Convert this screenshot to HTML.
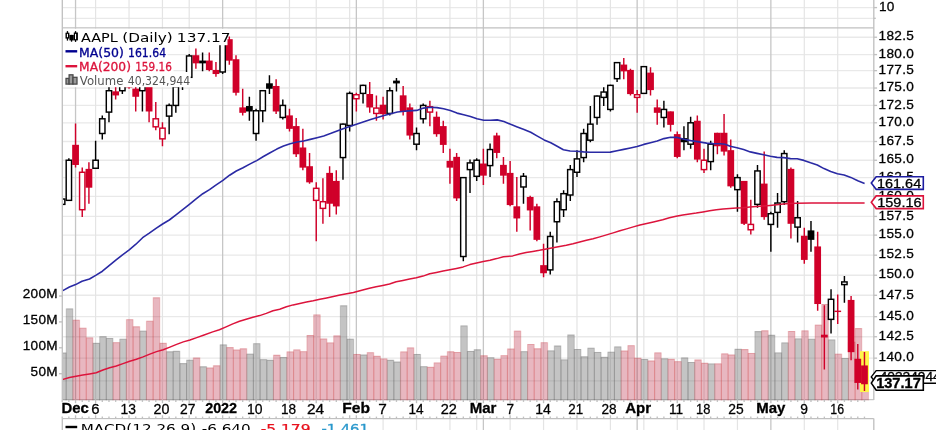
<!DOCTYPE html>
<html><head><meta charset="utf-8"><title>AAPL (Daily)</title>
<style>html,body{margin:0;padding:0;background:#fff}body{width:936px;height:430px;overflow:hidden}svg text{white-space:pre}</style>
</head><body>
<svg width="936" height="430" viewBox="0 0 936 430" style="display:block">
<rect width="936" height="430" fill="#fff"/>
<defs><clipPath id="cp"><rect x="62.3" y="27.95" width="811.5" height="372.25"/></clipPath></defs>
<g>
<line x1="62.30" y1="7.60" x2="873.80" y2="7.60" stroke="#e9e9e9" stroke-width="1.34" />
<line x1="62.30" y1="18.30" x2="873.80" y2="18.30" stroke="#e9e9e9" stroke-width="1.34" />
<line x1="62.30" y1="37.22" x2="873.80" y2="37.22" stroke="#e9e9e9" stroke-width="1.34" />
<line x1="62.30" y1="54.60" x2="873.80" y2="54.60" stroke="#e9e9e9" stroke-width="1.34" />
<line x1="62.30" y1="70.65" x2="873.80" y2="70.65" stroke="#e9e9e9" stroke-width="1.34" />
<line x1="62.30" y1="88.03" x2="873.80" y2="88.03" stroke="#e9e9e9" stroke-width="1.34" />
<line x1="62.30" y1="105.42" x2="873.80" y2="105.42" stroke="#e9e9e9" stroke-width="1.34" />
<line x1="62.30" y1="122.80" x2="873.80" y2="122.80" stroke="#e9e9e9" stroke-width="1.34" />
<line x1="62.30" y1="141.52" x2="873.80" y2="141.52" stroke="#e9e9e9" stroke-width="1.34" />
<line x1="62.30" y1="160.24" x2="873.80" y2="160.24" stroke="#e9e9e9" stroke-width="1.34" />
<line x1="62.30" y1="177.62" x2="873.80" y2="177.62" stroke="#e9e9e9" stroke-width="1.34" />
<line x1="62.30" y1="196.34" x2="873.80" y2="196.34" stroke="#e9e9e9" stroke-width="1.34" />
<line x1="62.30" y1="216.40" x2="873.80" y2="216.40" stroke="#e9e9e9" stroke-width="1.34" />
<line x1="62.30" y1="235.12" x2="873.80" y2="235.12" stroke="#e9e9e9" stroke-width="1.34" />
<line x1="62.30" y1="255.18" x2="873.80" y2="255.18" stroke="#e9e9e9" stroke-width="1.34" />
<line x1="62.30" y1="275.23" x2="873.80" y2="275.23" stroke="#e9e9e9" stroke-width="1.34" />
<line x1="62.30" y1="295.29" x2="873.80" y2="295.29" stroke="#e9e9e9" stroke-width="1.34" />
<line x1="62.30" y1="316.68" x2="873.80" y2="316.68" stroke="#e9e9e9" stroke-width="1.34" />
<line x1="62.30" y1="336.74" x2="873.80" y2="336.74" stroke="#e9e9e9" stroke-width="1.34" />
<line x1="62.30" y1="358.14" x2="873.80" y2="358.14" stroke="#e9e9e9" stroke-width="1.34" />
<line x1="62.30" y1="380.87" x2="873.80" y2="380.87" stroke="#e9e9e9" stroke-width="1.34" />
<line x1="62.30" y1="399.60" x2="873.80" y2="399.60" stroke="#c8c8c8" stroke-width="1.2" />
<line x1="95.61" y1="0.00" x2="95.61" y2="399.90" stroke="#e4e4e4" stroke-width="1.2" />
<line x1="95.61" y1="418.60" x2="95.61" y2="430.00" stroke="#e4e4e4" stroke-width="1.2" />
<line x1="129.04" y1="0.00" x2="129.04" y2="399.90" stroke="#e4e4e4" stroke-width="1.2" />
<line x1="129.04" y1="418.60" x2="129.04" y2="430.00" stroke="#e4e4e4" stroke-width="1.2" />
<line x1="162.46" y1="0.00" x2="162.46" y2="399.90" stroke="#e4e4e4" stroke-width="1.2" />
<line x1="162.46" y1="418.60" x2="162.46" y2="430.00" stroke="#e4e4e4" stroke-width="1.2" />
<line x1="189.21" y1="0.00" x2="189.21" y2="399.90" stroke="#e4e4e4" stroke-width="1.2" />
<line x1="189.21" y1="418.60" x2="189.21" y2="430.00" stroke="#e4e4e4" stroke-width="1.2" />
<line x1="256.06" y1="0.00" x2="256.06" y2="399.90" stroke="#e4e4e4" stroke-width="1.2" />
<line x1="256.06" y1="418.60" x2="256.06" y2="430.00" stroke="#e4e4e4" stroke-width="1.2" />
<line x1="289.49" y1="0.00" x2="289.49" y2="399.90" stroke="#e4e4e4" stroke-width="1.2" />
<line x1="289.49" y1="418.60" x2="289.49" y2="430.00" stroke="#e4e4e4" stroke-width="1.2" />
<line x1="316.24" y1="0.00" x2="316.24" y2="399.90" stroke="#e4e4e4" stroke-width="1.2" />
<line x1="316.24" y1="418.60" x2="316.24" y2="430.00" stroke="#e4e4e4" stroke-width="1.2" />
<line x1="349.66" y1="0.00" x2="349.66" y2="399.90" stroke="#e4e4e4" stroke-width="1.2" />
<line x1="349.66" y1="418.60" x2="349.66" y2="430.00" stroke="#e4e4e4" stroke-width="1.2" />
<line x1="383.09" y1="0.00" x2="383.09" y2="399.90" stroke="#e4e4e4" stroke-width="1.2" />
<line x1="383.09" y1="418.60" x2="383.09" y2="430.00" stroke="#e4e4e4" stroke-width="1.2" />
<line x1="416.52" y1="0.00" x2="416.52" y2="399.90" stroke="#e4e4e4" stroke-width="1.2" />
<line x1="416.52" y1="418.60" x2="416.52" y2="430.00" stroke="#e4e4e4" stroke-width="1.2" />
<line x1="449.95" y1="0.00" x2="449.95" y2="399.90" stroke="#e4e4e4" stroke-width="1.2" />
<line x1="449.95" y1="418.60" x2="449.95" y2="430.00" stroke="#e4e4e4" stroke-width="1.2" />
<line x1="476.69" y1="0.00" x2="476.69" y2="399.90" stroke="#e4e4e4" stroke-width="1.2" />
<line x1="476.69" y1="418.60" x2="476.69" y2="430.00" stroke="#e4e4e4" stroke-width="1.2" />
<line x1="510.12" y1="0.00" x2="510.12" y2="399.90" stroke="#e4e4e4" stroke-width="1.2" />
<line x1="510.12" y1="418.60" x2="510.12" y2="430.00" stroke="#e4e4e4" stroke-width="1.2" />
<line x1="543.55" y1="0.00" x2="543.55" y2="399.90" stroke="#e4e4e4" stroke-width="1.2" />
<line x1="543.55" y1="418.60" x2="543.55" y2="430.00" stroke="#e4e4e4" stroke-width="1.2" />
<line x1="576.98" y1="0.00" x2="576.98" y2="399.90" stroke="#e4e4e4" stroke-width="1.2" />
<line x1="576.98" y1="418.60" x2="576.98" y2="430.00" stroke="#e4e4e4" stroke-width="1.2" />
<line x1="610.41" y1="0.00" x2="610.41" y2="399.90" stroke="#e4e4e4" stroke-width="1.2" />
<line x1="610.41" y1="418.60" x2="610.41" y2="430.00" stroke="#e4e4e4" stroke-width="1.2" />
<line x1="643.84" y1="0.00" x2="643.84" y2="399.90" stroke="#e4e4e4" stroke-width="1.2" />
<line x1="643.84" y1="418.60" x2="643.84" y2="430.00" stroke="#e4e4e4" stroke-width="1.2" />
<line x1="677.26" y1="0.00" x2="677.26" y2="399.90" stroke="#e4e4e4" stroke-width="1.2" />
<line x1="677.26" y1="418.60" x2="677.26" y2="430.00" stroke="#e4e4e4" stroke-width="1.2" />
<line x1="704.01" y1="0.00" x2="704.01" y2="399.90" stroke="#e4e4e4" stroke-width="1.2" />
<line x1="704.01" y1="418.60" x2="704.01" y2="430.00" stroke="#e4e4e4" stroke-width="1.2" />
<line x1="737.44" y1="0.00" x2="737.44" y2="399.90" stroke="#e4e4e4" stroke-width="1.2" />
<line x1="737.44" y1="418.60" x2="737.44" y2="430.00" stroke="#e4e4e4" stroke-width="1.2" />
<line x1="804.29" y1="0.00" x2="804.29" y2="399.90" stroke="#e4e4e4" stroke-width="1.2" />
<line x1="804.29" y1="418.60" x2="804.29" y2="430.00" stroke="#e4e4e4" stroke-width="1.2" />
<line x1="837.72" y1="0.00" x2="837.72" y2="399.90" stroke="#e4e4e4" stroke-width="1.2" />
<line x1="837.72" y1="418.60" x2="837.72" y2="430.00" stroke="#e4e4e4" stroke-width="1.2" />
<line x1="75.55" y1="0.00" x2="75.55" y2="399.90" stroke="#c6c6c6" stroke-width="1.3" />
<line x1="75.55" y1="418.60" x2="75.55" y2="430.00" stroke="#c6c6c6" stroke-width="1.3" />
<line x1="222.64" y1="0.00" x2="222.64" y2="399.90" stroke="#c6c6c6" stroke-width="1.3" />
<line x1="222.64" y1="418.60" x2="222.64" y2="430.00" stroke="#c6c6c6" stroke-width="1.3" />
<line x1="356.35" y1="0.00" x2="356.35" y2="399.90" stroke="#c6c6c6" stroke-width="1.3" />
<line x1="356.35" y1="418.60" x2="356.35" y2="430.00" stroke="#c6c6c6" stroke-width="1.3" />
<line x1="483.38" y1="0.00" x2="483.38" y2="399.90" stroke="#c6c6c6" stroke-width="1.3" />
<line x1="483.38" y1="418.60" x2="483.38" y2="430.00" stroke="#c6c6c6" stroke-width="1.3" />
<line x1="637.15" y1="0.00" x2="637.15" y2="399.90" stroke="#c6c6c6" stroke-width="1.3" />
<line x1="637.15" y1="418.60" x2="637.15" y2="430.00" stroke="#c6c6c6" stroke-width="1.3" />
<line x1="770.86" y1="0.00" x2="770.86" y2="399.90" stroke="#c6c6c6" stroke-width="1.3" />
<line x1="770.86" y1="418.60" x2="770.86" y2="430.00" stroke="#c6c6c6" stroke-width="1.3" />
</g>
<g clip-path="url(#cp)">
<rect x="59.53" y="352.65" width="6.69" height="49.25" fill="rgba(107,107,107,0.40)"/>
<rect x="66.21" y="308.47" width="6.69" height="93.43" fill="rgba(107,107,107,0.40)"/>
<rect x="72.90" y="319.81" width="6.69" height="82.09" fill="rgba(178,18,45,0.30)"/>
<rect x="79.59" y="327.79" width="6.69" height="74.11" fill="rgba(178,18,45,0.30)"/>
<rect x="86.27" y="337.48" width="6.69" height="64.42" fill="rgba(178,18,45,0.30)"/>
<rect x="92.96" y="342.92" width="6.69" height="58.98" fill="rgba(107,107,107,0.40)"/>
<rect x="99.64" y="336.23" width="6.69" height="65.67" fill="rgba(107,107,107,0.40)"/>
<rect x="106.33" y="338.05" width="6.69" height="63.85" fill="rgba(107,107,107,0.40)"/>
<rect x="113.01" y="342.19" width="6.69" height="59.71" fill="rgba(178,18,45,0.30)"/>
<rect x="119.70" y="338.82" width="6.69" height="63.08" fill="rgba(107,107,107,0.40)"/>
<rect x="126.39" y="319.24" width="6.69" height="82.66" fill="rgba(178,18,45,0.30)"/>
<rect x="133.07" y="326.39" width="6.69" height="75.51" fill="rgba(178,18,45,0.30)"/>
<rect x="139.76" y="330.69" width="6.69" height="71.21" fill="rgba(107,107,107,0.40)"/>
<rect x="146.44" y="320.80" width="6.69" height="81.10" fill="rgba(178,18,45,0.30)"/>
<rect x="153.13" y="297.38" width="6.69" height="104.52" fill="rgba(178,18,45,0.30)"/>
<rect x="159.81" y="342.92" width="6.69" height="58.98" fill="rgba(178,18,45,0.30)"/>
<rect x="166.50" y="351.36" width="6.69" height="50.54" fill="rgba(107,107,107,0.40)"/>
<rect x="173.19" y="350.89" width="6.69" height="51.01" fill="rgba(107,107,107,0.40)"/>
<rect x="179.87" y="363.17" width="6.69" height="38.73" fill="rgba(107,107,107,0.40)"/>
<rect x="186.56" y="359.80" width="6.69" height="42.10" fill="rgba(107,107,107,0.40)"/>
<rect x="193.24" y="357.63" width="6.69" height="44.27" fill="rgba(178,18,45,0.30)"/>
<rect x="199.93" y="366.33" width="6.69" height="35.57" fill="rgba(107,107,107,0.40)"/>
<rect x="206.61" y="367.62" width="6.69" height="34.28" fill="rgba(178,18,45,0.30)"/>
<rect x="213.30" y="365.40" width="6.69" height="36.50" fill="rgba(178,18,45,0.30)"/>
<rect x="219.99" y="344.47" width="6.69" height="57.43" fill="rgba(107,107,107,0.40)"/>
<rect x="226.67" y="347.16" width="6.69" height="54.74" fill="rgba(178,18,45,0.30)"/>
<rect x="233.36" y="349.65" width="6.69" height="52.25" fill="rgba(178,18,45,0.30)"/>
<rect x="240.04" y="348.41" width="6.69" height="53.49" fill="rgba(178,18,45,0.30)"/>
<rect x="246.73" y="353.69" width="6.69" height="48.21" fill="rgba(107,107,107,0.40)"/>
<rect x="253.41" y="343.28" width="6.69" height="58.62" fill="rgba(107,107,107,0.40)"/>
<rect x="260.10" y="359.18" width="6.69" height="42.72" fill="rgba(107,107,107,0.40)"/>
<rect x="266.79" y="359.85" width="6.69" height="42.05" fill="rgba(107,107,107,0.40)"/>
<rect x="273.47" y="354.83" width="6.69" height="47.07" fill="rgba(178,18,45,0.30)"/>
<rect x="280.16" y="356.95" width="6.69" height="44.95" fill="rgba(107,107,107,0.40)"/>
<rect x="286.84" y="351.51" width="6.69" height="50.39" fill="rgba(178,18,45,0.30)"/>
<rect x="293.53" y="349.49" width="6.69" height="52.41" fill="rgba(178,18,45,0.30)"/>
<rect x="300.21" y="351.25" width="6.69" height="50.65" fill="rgba(178,18,45,0.30)"/>
<rect x="306.90" y="334.99" width="6.69" height="66.91" fill="rgba(178,18,45,0.30)"/>
<rect x="313.59" y="314.53" width="6.69" height="87.37" fill="rgba(178,18,45,0.30)"/>
<rect x="320.27" y="338.62" width="6.69" height="63.28" fill="rgba(178,18,45,0.30)"/>
<rect x="326.96" y="342.50" width="6.69" height="59.40" fill="rgba(178,18,45,0.30)"/>
<rect x="333.64" y="335.46" width="6.69" height="66.44" fill="rgba(178,18,45,0.30)"/>
<rect x="340.33" y="305.41" width="6.69" height="96.49" fill="rgba(107,107,107,0.40)"/>
<rect x="347.01" y="338.77" width="6.69" height="63.13" fill="rgba(107,107,107,0.40)"/>
<rect x="353.70" y="353.95" width="6.69" height="47.95" fill="rgba(178,18,45,0.30)"/>
<rect x="360.39" y="354.62" width="6.69" height="47.28" fill="rgba(107,107,107,0.40)"/>
<rect x="367.07" y="352.29" width="6.69" height="49.61" fill="rgba(178,18,45,0.30)"/>
<rect x="373.76" y="355.87" width="6.69" height="46.03" fill="rgba(178,18,45,0.30)"/>
<rect x="380.44" y="358.56" width="6.69" height="43.34" fill="rgba(178,18,45,0.30)"/>
<rect x="387.13" y="359.85" width="6.69" height="42.05" fill="rgba(107,107,107,0.40)"/>
<rect x="393.81" y="361.67" width="6.69" height="40.23" fill="rgba(107,107,107,0.40)"/>
<rect x="400.50" y="351.51" width="6.69" height="50.39" fill="rgba(178,18,45,0.30)"/>
<rect x="407.19" y="347.47" width="6.69" height="54.43" fill="rgba(178,18,45,0.30)"/>
<rect x="413.87" y="353.95" width="6.69" height="47.95" fill="rgba(107,107,107,0.40)"/>
<rect x="420.56" y="366.23" width="6.69" height="35.67" fill="rgba(107,107,107,0.40)"/>
<rect x="427.24" y="366.90" width="6.69" height="35.00" fill="rgba(178,18,45,0.30)"/>
<rect x="433.93" y="362.55" width="6.69" height="39.35" fill="rgba(178,18,45,0.30)"/>
<rect x="440.61" y="355.71" width="6.69" height="46.19" fill="rgba(178,18,45,0.30)"/>
<rect x="447.30" y="351.36" width="6.69" height="50.54" fill="rgba(178,18,45,0.30)"/>
<rect x="453.99" y="351.98" width="6.69" height="49.92" fill="rgba(178,18,45,0.30)"/>
<rect x="460.67" y="325.51" width="6.69" height="76.39" fill="rgba(107,107,107,0.40)"/>
<rect x="467.36" y="350.94" width="6.69" height="50.96" fill="rgba(107,107,107,0.40)"/>
<rect x="474.04" y="349.34" width="6.69" height="52.56" fill="rgba(107,107,107,0.40)"/>
<rect x="480.73" y="355.35" width="6.69" height="46.55" fill="rgba(178,18,45,0.30)"/>
<rect x="487.41" y="357.32" width="6.69" height="44.58" fill="rgba(107,107,107,0.40)"/>
<rect x="494.10" y="358.87" width="6.69" height="43.03" fill="rgba(178,18,45,0.30)"/>
<rect x="500.79" y="355.24" width="6.69" height="46.66" fill="rgba(178,18,45,0.30)"/>
<rect x="507.47" y="348.66" width="6.69" height="53.24" fill="rgba(178,18,45,0.30)"/>
<rect x="514.16" y="330.69" width="6.69" height="71.21" fill="rgba(178,18,45,0.30)"/>
<rect x="520.84" y="351.20" width="6.69" height="50.70" fill="rgba(107,107,107,0.40)"/>
<rect x="527.53" y="344.05" width="6.69" height="57.85" fill="rgba(178,18,45,0.30)"/>
<rect x="534.21" y="348.35" width="6.69" height="53.55" fill="rgba(178,18,45,0.30)"/>
<rect x="540.90" y="342.29" width="6.69" height="59.61" fill="rgba(178,18,45,0.30)"/>
<rect x="547.59" y="350.43" width="6.69" height="51.47" fill="rgba(107,107,107,0.40)"/>
<rect x="554.27" y="345.61" width="6.69" height="56.29" fill="rgba(107,107,107,0.40)"/>
<rect x="560.96" y="359.44" width="6.69" height="42.46" fill="rgba(107,107,107,0.40)"/>
<rect x="567.64" y="334.63" width="6.69" height="67.27" fill="rgba(107,107,107,0.40)"/>
<rect x="574.33" y="348.98" width="6.69" height="52.92" fill="rgba(107,107,107,0.40)"/>
<rect x="581.01" y="356.38" width="6.69" height="45.52" fill="rgba(107,107,107,0.40)"/>
<rect x="587.70" y="347.78" width="6.69" height="54.12" fill="rgba(107,107,107,0.40)"/>
<rect x="594.39" y="351.93" width="6.69" height="49.97" fill="rgba(107,107,107,0.40)"/>
<rect x="601.07" y="356.90" width="6.69" height="45.00" fill="rgba(107,107,107,0.40)"/>
<rect x="607.76" y="351.77" width="6.69" height="50.13" fill="rgba(107,107,107,0.40)"/>
<rect x="614.44" y="346.49" width="6.69" height="55.41" fill="rgba(107,107,107,0.40)"/>
<rect x="621.13" y="350.63" width="6.69" height="51.27" fill="rgba(178,18,45,0.30)"/>
<rect x="627.81" y="345.25" width="6.69" height="56.65" fill="rgba(178,18,45,0.30)"/>
<rect x="634.50" y="357.78" width="6.69" height="44.12" fill="rgba(178,18,45,0.30)"/>
<rect x="641.19" y="358.97" width="6.69" height="42.93" fill="rgba(107,107,107,0.40)"/>
<rect x="647.87" y="360.58" width="6.69" height="41.32" fill="rgba(178,18,45,0.30)"/>
<rect x="654.56" y="352.45" width="6.69" height="49.45" fill="rgba(178,18,45,0.30)"/>
<rect x="661.24" y="358.40" width="6.69" height="43.50" fill="rgba(107,107,107,0.40)"/>
<rect x="667.93" y="358.92" width="6.69" height="42.98" fill="rgba(178,18,45,0.30)"/>
<rect x="674.61" y="361.20" width="6.69" height="40.70" fill="rgba(178,18,45,0.30)"/>
<rect x="681.30" y="357.52" width="6.69" height="44.38" fill="rgba(107,107,107,0.40)"/>
<rect x="687.99" y="362.03" width="6.69" height="39.87" fill="rgba(107,107,107,0.40)"/>
<rect x="694.67" y="359.59" width="6.69" height="42.31" fill="rgba(178,18,45,0.30)"/>
<rect x="701.36" y="362.86" width="6.69" height="39.04" fill="rgba(178,18,45,0.30)"/>
<rect x="708.04" y="363.53" width="6.69" height="38.37" fill="rgba(107,107,107,0.40)"/>
<rect x="714.73" y="363.43" width="6.69" height="38.47" fill="rgba(178,18,45,0.30)"/>
<rect x="721.41" y="353.43" width="6.69" height="48.47" fill="rgba(178,18,45,0.30)"/>
<rect x="728.10" y="354.62" width="6.69" height="47.28" fill="rgba(178,18,45,0.30)"/>
<rect x="734.79" y="348.87" width="6.69" height="53.03" fill="rgba(107,107,107,0.40)"/>
<rect x="741.47" y="349.08" width="6.69" height="52.82" fill="rgba(178,18,45,0.30)"/>
<rect x="748.16" y="352.96" width="6.69" height="48.94" fill="rgba(178,18,45,0.30)"/>
<rect x="754.84" y="331.16" width="6.69" height="70.74" fill="rgba(107,107,107,0.40)"/>
<rect x="761.53" y="330.38" width="6.69" height="71.52" fill="rgba(178,18,45,0.30)"/>
<rect x="768.21" y="334.83" width="6.69" height="67.07" fill="rgba(107,107,107,0.40)"/>
<rect x="774.90" y="352.50" width="6.69" height="49.40" fill="rgba(107,107,107,0.40)"/>
<rect x="781.59" y="342.50" width="6.69" height="59.40" fill="rgba(107,107,107,0.40)"/>
<rect x="788.27" y="331.00" width="6.69" height="70.90" fill="rgba(178,18,45,0.30)"/>
<rect x="794.96" y="338.46" width="6.69" height="63.44" fill="rgba(107,107,107,0.40)"/>
<rect x="801.64" y="330.43" width="6.69" height="71.47" fill="rgba(178,18,45,0.30)"/>
<rect x="808.33" y="338.82" width="6.69" height="63.08" fill="rgba(107,107,107,0.40)"/>
<rect x="815.01" y="324.68" width="6.69" height="77.22" fill="rgba(178,18,45,0.30)"/>
<rect x="821.70" y="304.01" width="6.69" height="97.89" fill="rgba(178,18,45,0.30)"/>
<rect x="828.39" y="339.55" width="6.69" height="62.35" fill="rgba(107,107,107,0.40)"/>
<rect x="835.07" y="353.74" width="6.69" height="48.16" fill="rgba(178,18,45,0.30)"/>
<rect x="841.76" y="358.04" width="6.69" height="43.86" fill="rgba(107,107,107,0.40)"/>
<rect x="848.44" y="341.78" width="6.69" height="60.12" fill="rgba(178,18,45,0.30)"/>
<rect x="855.13" y="328.10" width="6.69" height="73.80" fill="rgba(178,18,45,0.30)"/>
<rect x="861.81" y="377.72" width="6.69" height="24.18" fill="rgba(178,18,45,0.30)"/>
<path d="M59.53 401.90V353.15H66.21V401.90" fill="none" stroke="rgba(60,60,60,0.18)" stroke-width="1.1"/>
<path d="M66.21 401.90V308.97H72.90V401.90" fill="none" stroke="rgba(60,60,60,0.18)" stroke-width="1.1"/>
<path d="M72.90 401.90V320.31H79.59V401.90" fill="none" stroke="rgba(200,40,40,0.18)" stroke-width="1.1"/>
<path d="M79.59 401.90V328.29H86.27V401.90" fill="none" stroke="rgba(200,40,40,0.18)" stroke-width="1.1"/>
<path d="M86.27 401.90V337.98H92.96V401.90" fill="none" stroke="rgba(200,40,40,0.18)" stroke-width="1.1"/>
<path d="M92.96 401.90V343.42H99.64V401.90" fill="none" stroke="rgba(60,60,60,0.18)" stroke-width="1.1"/>
<path d="M99.64 401.90V336.73H106.33V401.90" fill="none" stroke="rgba(60,60,60,0.18)" stroke-width="1.1"/>
<path d="M106.33 401.90V338.55H113.01V401.90" fill="none" stroke="rgba(60,60,60,0.18)" stroke-width="1.1"/>
<path d="M113.01 401.90V342.69H119.70V401.90" fill="none" stroke="rgba(200,40,40,0.18)" stroke-width="1.1"/>
<path d="M119.70 401.90V339.32H126.39V401.90" fill="none" stroke="rgba(60,60,60,0.18)" stroke-width="1.1"/>
<path d="M126.39 401.90V319.74H133.07V401.90" fill="none" stroke="rgba(200,40,40,0.18)" stroke-width="1.1"/>
<path d="M133.07 401.90V326.89H139.76V401.90" fill="none" stroke="rgba(200,40,40,0.18)" stroke-width="1.1"/>
<path d="M139.76 401.90V331.19H146.44V401.90" fill="none" stroke="rgba(60,60,60,0.18)" stroke-width="1.1"/>
<path d="M146.44 401.90V321.30H153.13V401.90" fill="none" stroke="rgba(200,40,40,0.18)" stroke-width="1.1"/>
<path d="M153.13 401.90V297.88H159.81V401.90" fill="none" stroke="rgba(200,40,40,0.18)" stroke-width="1.1"/>
<path d="M159.81 401.90V343.42H166.50V401.90" fill="none" stroke="rgba(200,40,40,0.18)" stroke-width="1.1"/>
<path d="M166.50 401.90V351.86H173.19V401.90" fill="none" stroke="rgba(60,60,60,0.18)" stroke-width="1.1"/>
<path d="M173.19 401.90V351.39H179.87V401.90" fill="none" stroke="rgba(60,60,60,0.18)" stroke-width="1.1"/>
<path d="M179.87 401.90V363.67H186.56V401.90" fill="none" stroke="rgba(60,60,60,0.18)" stroke-width="1.1"/>
<path d="M186.56 401.90V360.30H193.24V401.90" fill="none" stroke="rgba(60,60,60,0.18)" stroke-width="1.1"/>
<path d="M193.24 401.90V358.13H199.93V401.90" fill="none" stroke="rgba(200,40,40,0.18)" stroke-width="1.1"/>
<path d="M199.93 401.90V366.83H206.61V401.90" fill="none" stroke="rgba(60,60,60,0.18)" stroke-width="1.1"/>
<path d="M206.61 401.90V368.12H213.30V401.90" fill="none" stroke="rgba(200,40,40,0.18)" stroke-width="1.1"/>
<path d="M213.30 401.90V365.90H219.99V401.90" fill="none" stroke="rgba(200,40,40,0.18)" stroke-width="1.1"/>
<path d="M219.99 401.90V344.97H226.67V401.90" fill="none" stroke="rgba(60,60,60,0.18)" stroke-width="1.1"/>
<path d="M226.67 401.90V347.66H233.36V401.90" fill="none" stroke="rgba(200,40,40,0.18)" stroke-width="1.1"/>
<path d="M233.36 401.90V350.15H240.04V401.90" fill="none" stroke="rgba(200,40,40,0.18)" stroke-width="1.1"/>
<path d="M240.04 401.90V348.91H246.73V401.90" fill="none" stroke="rgba(200,40,40,0.18)" stroke-width="1.1"/>
<path d="M246.73 401.90V354.19H253.41V401.90" fill="none" stroke="rgba(60,60,60,0.18)" stroke-width="1.1"/>
<path d="M253.41 401.90V343.78H260.10V401.90" fill="none" stroke="rgba(60,60,60,0.18)" stroke-width="1.1"/>
<path d="M260.10 401.90V359.68H266.79V401.90" fill="none" stroke="rgba(60,60,60,0.18)" stroke-width="1.1"/>
<path d="M266.79 401.90V360.35H273.47V401.90" fill="none" stroke="rgba(60,60,60,0.18)" stroke-width="1.1"/>
<path d="M273.47 401.90V355.33H280.16V401.90" fill="none" stroke="rgba(200,40,40,0.18)" stroke-width="1.1"/>
<path d="M280.16 401.90V357.45H286.84V401.90" fill="none" stroke="rgba(60,60,60,0.18)" stroke-width="1.1"/>
<path d="M286.84 401.90V352.01H293.53V401.90" fill="none" stroke="rgba(200,40,40,0.18)" stroke-width="1.1"/>
<path d="M293.53 401.90V349.99H300.21V401.90" fill="none" stroke="rgba(200,40,40,0.18)" stroke-width="1.1"/>
<path d="M300.21 401.90V351.75H306.90V401.90" fill="none" stroke="rgba(200,40,40,0.18)" stroke-width="1.1"/>
<path d="M306.90 401.90V335.49H313.59V401.90" fill="none" stroke="rgba(200,40,40,0.18)" stroke-width="1.1"/>
<path d="M313.59 401.90V315.03H320.27V401.90" fill="none" stroke="rgba(200,40,40,0.18)" stroke-width="1.1"/>
<path d="M320.27 401.90V339.12H326.96V401.90" fill="none" stroke="rgba(200,40,40,0.18)" stroke-width="1.1"/>
<path d="M326.96 401.90V343.00H333.64V401.90" fill="none" stroke="rgba(200,40,40,0.18)" stroke-width="1.1"/>
<path d="M333.64 401.90V335.96H340.33V401.90" fill="none" stroke="rgba(200,40,40,0.18)" stroke-width="1.1"/>
<path d="M340.33 401.90V305.91H347.01V401.90" fill="none" stroke="rgba(60,60,60,0.18)" stroke-width="1.1"/>
<path d="M347.01 401.90V339.27H353.70V401.90" fill="none" stroke="rgba(60,60,60,0.18)" stroke-width="1.1"/>
<path d="M353.70 401.90V354.45H360.39V401.90" fill="none" stroke="rgba(200,40,40,0.18)" stroke-width="1.1"/>
<path d="M360.39 401.90V355.12H367.07V401.90" fill="none" stroke="rgba(60,60,60,0.18)" stroke-width="1.1"/>
<path d="M367.07 401.90V352.79H373.76V401.90" fill="none" stroke="rgba(200,40,40,0.18)" stroke-width="1.1"/>
<path d="M373.76 401.90V356.37H380.44V401.90" fill="none" stroke="rgba(200,40,40,0.18)" stroke-width="1.1"/>
<path d="M380.44 401.90V359.06H387.13V401.90" fill="none" stroke="rgba(200,40,40,0.18)" stroke-width="1.1"/>
<path d="M387.13 401.90V360.35H393.81V401.90" fill="none" stroke="rgba(60,60,60,0.18)" stroke-width="1.1"/>
<path d="M393.81 401.90V362.17H400.50V401.90" fill="none" stroke="rgba(60,60,60,0.18)" stroke-width="1.1"/>
<path d="M400.50 401.90V352.01H407.19V401.90" fill="none" stroke="rgba(200,40,40,0.18)" stroke-width="1.1"/>
<path d="M407.19 401.90V347.97H413.87V401.90" fill="none" stroke="rgba(200,40,40,0.18)" stroke-width="1.1"/>
<path d="M413.87 401.90V354.45H420.56V401.90" fill="none" stroke="rgba(60,60,60,0.18)" stroke-width="1.1"/>
<path d="M420.56 401.90V366.73H427.24V401.90" fill="none" stroke="rgba(60,60,60,0.18)" stroke-width="1.1"/>
<path d="M427.24 401.90V367.40H433.93V401.90" fill="none" stroke="rgba(200,40,40,0.18)" stroke-width="1.1"/>
<path d="M433.93 401.90V363.05H440.61V401.90" fill="none" stroke="rgba(200,40,40,0.18)" stroke-width="1.1"/>
<path d="M440.61 401.90V356.21H447.30V401.90" fill="none" stroke="rgba(200,40,40,0.18)" stroke-width="1.1"/>
<path d="M447.30 401.90V351.86H453.99V401.90" fill="none" stroke="rgba(200,40,40,0.18)" stroke-width="1.1"/>
<path d="M453.99 401.90V352.48H460.67V401.90" fill="none" stroke="rgba(200,40,40,0.18)" stroke-width="1.1"/>
<path d="M460.67 401.90V326.01H467.36V401.90" fill="none" stroke="rgba(60,60,60,0.18)" stroke-width="1.1"/>
<path d="M467.36 401.90V351.44H474.04V401.90" fill="none" stroke="rgba(60,60,60,0.18)" stroke-width="1.1"/>
<path d="M474.04 401.90V349.84H480.73V401.90" fill="none" stroke="rgba(60,60,60,0.18)" stroke-width="1.1"/>
<path d="M480.73 401.90V355.85H487.41V401.90" fill="none" stroke="rgba(200,40,40,0.18)" stroke-width="1.1"/>
<path d="M487.41 401.90V357.82H494.10V401.90" fill="none" stroke="rgba(60,60,60,0.18)" stroke-width="1.1"/>
<path d="M494.10 401.90V359.37H500.79V401.90" fill="none" stroke="rgba(200,40,40,0.18)" stroke-width="1.1"/>
<path d="M500.79 401.90V355.74H507.47V401.90" fill="none" stroke="rgba(200,40,40,0.18)" stroke-width="1.1"/>
<path d="M507.47 401.90V349.16H514.16V401.90" fill="none" stroke="rgba(200,40,40,0.18)" stroke-width="1.1"/>
<path d="M514.16 401.90V331.19H520.84V401.90" fill="none" stroke="rgba(200,40,40,0.18)" stroke-width="1.1"/>
<path d="M520.84 401.90V351.70H527.53V401.90" fill="none" stroke="rgba(60,60,60,0.18)" stroke-width="1.1"/>
<path d="M527.53 401.90V344.55H534.21V401.90" fill="none" stroke="rgba(200,40,40,0.18)" stroke-width="1.1"/>
<path d="M534.21 401.90V348.85H540.90V401.90" fill="none" stroke="rgba(200,40,40,0.18)" stroke-width="1.1"/>
<path d="M540.90 401.90V342.79H547.59V401.90" fill="none" stroke="rgba(200,40,40,0.18)" stroke-width="1.1"/>
<path d="M547.59 401.90V350.93H554.27V401.90" fill="none" stroke="rgba(60,60,60,0.18)" stroke-width="1.1"/>
<path d="M554.27 401.90V346.11H560.96V401.90" fill="none" stroke="rgba(60,60,60,0.18)" stroke-width="1.1"/>
<path d="M560.96 401.90V359.94H567.64V401.90" fill="none" stroke="rgba(60,60,60,0.18)" stroke-width="1.1"/>
<path d="M567.64 401.90V335.13H574.33V401.90" fill="none" stroke="rgba(60,60,60,0.18)" stroke-width="1.1"/>
<path d="M574.33 401.90V349.48H581.01V401.90" fill="none" stroke="rgba(60,60,60,0.18)" stroke-width="1.1"/>
<path d="M581.01 401.90V356.88H587.70V401.90" fill="none" stroke="rgba(60,60,60,0.18)" stroke-width="1.1"/>
<path d="M587.70 401.90V348.28H594.39V401.90" fill="none" stroke="rgba(60,60,60,0.18)" stroke-width="1.1"/>
<path d="M594.39 401.90V352.43H601.07V401.90" fill="none" stroke="rgba(60,60,60,0.18)" stroke-width="1.1"/>
<path d="M601.07 401.90V357.40H607.76V401.90" fill="none" stroke="rgba(60,60,60,0.18)" stroke-width="1.1"/>
<path d="M607.76 401.90V352.27H614.44V401.90" fill="none" stroke="rgba(60,60,60,0.18)" stroke-width="1.1"/>
<path d="M614.44 401.90V346.99H621.13V401.90" fill="none" stroke="rgba(60,60,60,0.18)" stroke-width="1.1"/>
<path d="M621.13 401.90V351.13H627.81V401.90" fill="none" stroke="rgba(200,40,40,0.18)" stroke-width="1.1"/>
<path d="M627.81 401.90V345.75H634.50V401.90" fill="none" stroke="rgba(200,40,40,0.18)" stroke-width="1.1"/>
<path d="M634.50 401.90V358.28H641.19V401.90" fill="none" stroke="rgba(200,40,40,0.18)" stroke-width="1.1"/>
<path d="M641.19 401.90V359.47H647.87V401.90" fill="none" stroke="rgba(60,60,60,0.18)" stroke-width="1.1"/>
<path d="M647.87 401.90V361.08H654.56V401.90" fill="none" stroke="rgba(200,40,40,0.18)" stroke-width="1.1"/>
<path d="M654.56 401.90V352.95H661.24V401.90" fill="none" stroke="rgba(200,40,40,0.18)" stroke-width="1.1"/>
<path d="M661.24 401.90V358.90H667.93V401.90" fill="none" stroke="rgba(60,60,60,0.18)" stroke-width="1.1"/>
<path d="M667.93 401.90V359.42H674.61V401.90" fill="none" stroke="rgba(200,40,40,0.18)" stroke-width="1.1"/>
<path d="M674.61 401.90V361.70H681.30V401.90" fill="none" stroke="rgba(200,40,40,0.18)" stroke-width="1.1"/>
<path d="M681.30 401.90V358.02H687.99V401.90" fill="none" stroke="rgba(60,60,60,0.18)" stroke-width="1.1"/>
<path d="M687.99 401.90V362.53H694.67V401.90" fill="none" stroke="rgba(60,60,60,0.18)" stroke-width="1.1"/>
<path d="M694.67 401.90V360.09H701.36V401.90" fill="none" stroke="rgba(200,40,40,0.18)" stroke-width="1.1"/>
<path d="M701.36 401.90V363.36H708.04V401.90" fill="none" stroke="rgba(200,40,40,0.18)" stroke-width="1.1"/>
<path d="M708.04 401.90V364.03H714.73V401.90" fill="none" stroke="rgba(60,60,60,0.18)" stroke-width="1.1"/>
<path d="M714.73 401.90V363.93H721.41V401.90" fill="none" stroke="rgba(200,40,40,0.18)" stroke-width="1.1"/>
<path d="M721.41 401.90V353.93H728.10V401.90" fill="none" stroke="rgba(200,40,40,0.18)" stroke-width="1.1"/>
<path d="M728.10 401.90V355.12H734.79V401.90" fill="none" stroke="rgba(200,40,40,0.18)" stroke-width="1.1"/>
<path d="M734.79 401.90V349.37H741.47V401.90" fill="none" stroke="rgba(60,60,60,0.18)" stroke-width="1.1"/>
<path d="M741.47 401.90V349.58H748.16V401.90" fill="none" stroke="rgba(200,40,40,0.18)" stroke-width="1.1"/>
<path d="M748.16 401.90V353.46H754.84V401.90" fill="none" stroke="rgba(200,40,40,0.18)" stroke-width="1.1"/>
<path d="M754.84 401.90V331.66H761.53V401.90" fill="none" stroke="rgba(60,60,60,0.18)" stroke-width="1.1"/>
<path d="M761.53 401.90V330.88H768.21V401.90" fill="none" stroke="rgba(200,40,40,0.18)" stroke-width="1.1"/>
<path d="M768.21 401.90V335.33H774.90V401.90" fill="none" stroke="rgba(60,60,60,0.18)" stroke-width="1.1"/>
<path d="M774.90 401.90V353.00H781.59V401.90" fill="none" stroke="rgba(60,60,60,0.18)" stroke-width="1.1"/>
<path d="M781.59 401.90V343.00H788.27V401.90" fill="none" stroke="rgba(60,60,60,0.18)" stroke-width="1.1"/>
<path d="M788.27 401.90V331.50H794.96V401.90" fill="none" stroke="rgba(200,40,40,0.18)" stroke-width="1.1"/>
<path d="M794.96 401.90V338.96H801.64V401.90" fill="none" stroke="rgba(60,60,60,0.18)" stroke-width="1.1"/>
<path d="M801.64 401.90V330.93H808.33V401.90" fill="none" stroke="rgba(200,40,40,0.18)" stroke-width="1.1"/>
<path d="M808.33 401.90V339.32H815.01V401.90" fill="none" stroke="rgba(60,60,60,0.18)" stroke-width="1.1"/>
<path d="M815.01 401.90V325.18H821.70V401.90" fill="none" stroke="rgba(200,40,40,0.18)" stroke-width="1.1"/>
<path d="M821.70 401.90V304.51H828.39V401.90" fill="none" stroke="rgba(200,40,40,0.18)" stroke-width="1.1"/>
<path d="M828.39 401.90V340.05H835.07V401.90" fill="none" stroke="rgba(60,60,60,0.18)" stroke-width="1.1"/>
<path d="M835.07 401.90V354.24H841.76V401.90" fill="none" stroke="rgba(200,40,40,0.18)" stroke-width="1.1"/>
<path d="M841.76 401.90V358.54H848.44V401.90" fill="none" stroke="rgba(60,60,60,0.18)" stroke-width="1.1"/>
<path d="M848.44 401.90V342.28H855.13V401.90" fill="none" stroke="rgba(200,40,40,0.18)" stroke-width="1.1"/>
<path d="M855.13 401.90V328.60H861.81V401.90" fill="none" stroke="rgba(200,40,40,0.18)" stroke-width="1.1"/>
<path d="M861.81 401.90V378.22H868.50V401.90" fill="none" stroke="rgba(200,40,40,0.18)" stroke-width="1.1"/>
<rect x="860.00" y="351.18" width="8.99" height="40.85" fill="#fff64a"/>
<line x1="62.18" y1="190.32" x2="62.18" y2="210.38" stroke="#000" stroke-width="1.45"/>
<rect x="59.50" y="199.02" width="5.35" height="5.35" fill="#fff" stroke="#000" stroke-width="1.45"/>
<line x1="68.86" y1="158.23" x2="68.86" y2="201.02" stroke="#000" stroke-width="1.45"/>
<rect x="66.19" y="160.24" width="5.35" height="40.11" fill="#fff" stroke="#000" stroke-width="1.45"/>
<line x1="75.55" y1="123.47" x2="75.55" y2="167.59" stroke="#d00029" stroke-width="1.45"/>
<rect x="72.17" y="144.81" width="6.77" height="20.16" fill="#d00029"/>
<line x1="82.24" y1="167.59" x2="82.24" y2="217.07" stroke="#d00029" stroke-width="1.45"/>
<rect x="79.56" y="172.27" width="5.35" height="37.44" fill="#fff" stroke="#d00029" stroke-width="1.45"/>
<line x1="88.92" y1="162.24" x2="88.92" y2="203.70" stroke="#d00029" stroke-width="1.45"/>
<rect x="85.54" y="168.88" width="6.77" height="18.82" fill="#d00029"/>
<line x1="95.61" y1="140.85" x2="95.61" y2="168.93" stroke="#000" stroke-width="1.45"/>
<rect x="92.93" y="160.24" width="5.35" height="8.02" fill="#fff" stroke="#000" stroke-width="1.45"/>
<line x1="102.29" y1="115.44" x2="102.29" y2="139.51" stroke="#000" stroke-width="1.45"/>
<rect x="99.62" y="118.79" width="5.35" height="14.71" fill="#fff" stroke="#000" stroke-width="1.45"/>
<line x1="108.98" y1="84.69" x2="108.98" y2="122.13" stroke="#000" stroke-width="1.45"/>
<rect x="106.30" y="90.71" width="5.35" height="21.39" fill="#fff" stroke="#000" stroke-width="1.45"/>
<line x1="115.66" y1="79.34" x2="115.66" y2="99.40" stroke="#d00029" stroke-width="1.45"/>
<rect x="112.28" y="91.33" width="6.77" height="4.11" fill="#d00029"/>
<line x1="122.35" y1="59.28" x2="122.35" y2="94.05" stroke="#000" stroke-width="1.45"/>
<rect x="119.68" y="61.29" width="5.35" height="29.42" fill="#fff" stroke="#000" stroke-width="1.45"/>
<line x1="129.04" y1="43.24" x2="129.04" y2="88.70" stroke="#d00029" stroke-width="1.45"/>
<rect x="125.65" y="49.87" width="6.77" height="37.54" fill="#d00029"/>
<line x1="135.72" y1="72.66" x2="135.72" y2="111.43" stroke="#d00029" stroke-width="1.45"/>
<rect x="132.34" y="88.65" width="6.77" height="8.12" fill="#d00029"/>
<line x1="142.41" y1="60.62" x2="142.41" y2="111.43" stroke="#000" stroke-width="1.45"/>
<rect x="139.73" y="62.63" width="5.35" height="28.08" fill="#fff" stroke="#000" stroke-width="1.45"/>
<line x1="149.09" y1="48.59" x2="149.09" y2="122.13" stroke="#d00029" stroke-width="1.45"/>
<rect x="145.71" y="61.91" width="6.77" height="49.57" fill="#d00029"/>
<line x1="155.78" y1="102.07" x2="155.78" y2="130.15" stroke="#d00029" stroke-width="1.45"/>
<rect x="153.10" y="118.79" width="5.35" height="8.02" fill="#fff" stroke="#d00029" stroke-width="1.45"/>
<line x1="162.46" y1="122.13" x2="162.46" y2="146.20" stroke="#d00029" stroke-width="1.45"/>
<rect x="159.79" y="128.15" width="5.35" height="10.70" fill="#fff" stroke="#d00029" stroke-width="1.45"/>
<line x1="169.15" y1="103.41" x2="169.15" y2="134.16" stroke="#000" stroke-width="1.45"/>
<rect x="166.48" y="105.42" width="5.35" height="10.70" fill="#fff" stroke="#000" stroke-width="1.45"/>
<line x1="175.84" y1="84.69" x2="175.84" y2="112.77" stroke="#000" stroke-width="1.45"/>
<rect x="173.16" y="86.70" width="5.35" height="18.72" fill="#fff" stroke="#000" stroke-width="1.45"/>
<line x1="182.52" y1="78.00" x2="182.52" y2="90.04" stroke="#000" stroke-width="1.45"/>
<rect x="179.85" y="82.68" width="5.35" height="2.67" fill="#fff" stroke="#000" stroke-width="1.45"/>
<line x1="189.21" y1="53.94" x2="189.21" y2="78.00" stroke="#000" stroke-width="1.45"/>
<rect x="186.53" y="55.94" width="5.35" height="21.39" fill="#fff" stroke="#000" stroke-width="1.45"/>
<line x1="195.89" y1="48.59" x2="195.89" y2="68.64" stroke="#d00029" stroke-width="1.45"/>
<rect x="192.51" y="55.22" width="6.77" height="8.12" fill="#d00029"/>
<line x1="202.58" y1="52.60" x2="202.58" y2="71.32" stroke="#000" stroke-width="1.45"/>
<rect x="199.90" y="61.29" width="5.35" height="1.34" fill="#fff" stroke="#000" stroke-width="1.45"/>
<line x1="209.26" y1="52.60" x2="209.26" y2="71.32" stroke="#d00029" stroke-width="1.45"/>
<rect x="205.88" y="60.57" width="6.77" height="9.46" fill="#d00029"/>
<line x1="215.95" y1="61.96" x2="215.95" y2="76.67" stroke="#d00029" stroke-width="1.45"/>
<rect x="212.57" y="69.93" width="6.77" height="4.11" fill="#d00029"/>
<line x1="222.64" y1="37.89" x2="222.64" y2="73.99" stroke="#000" stroke-width="1.45"/>
<rect x="219.96" y="43.91" width="5.35" height="28.08" fill="#fff" stroke="#000" stroke-width="1.45"/>
<line x1="229.32" y1="36.55" x2="229.32" y2="64.63" stroke="#d00029" stroke-width="1.45"/>
<rect x="225.94" y="39.18" width="6.77" height="21.49" fill="#d00029"/>
<line x1="236.01" y1="55.27" x2="236.01" y2="95.39" stroke="#d00029" stroke-width="1.45"/>
<rect x="232.62" y="59.23" width="6.77" height="33.53" fill="#d00029"/>
<line x1="242.69" y1="88.70" x2="242.69" y2="115.44" stroke="#d00029" stroke-width="1.45"/>
<rect x="239.31" y="107.37" width="6.77" height="5.45" fill="#d00029"/>
<line x1="249.38" y1="96.72" x2="249.38" y2="120.79" stroke="#000" stroke-width="1.45"/>
<rect x="246.00" y="106.03" width="6.77" height="5.45" fill="#000"/>
<line x1="256.06" y1="108.76" x2="256.06" y2="140.85" stroke="#000" stroke-width="1.45"/>
<rect x="253.39" y="110.76" width="5.35" height="22.73" fill="#fff" stroke="#000" stroke-width="1.45"/>
<line x1="262.75" y1="90.04" x2="262.75" y2="122.13" stroke="#000" stroke-width="1.45"/>
<rect x="260.08" y="90.71" width="5.35" height="20.06" fill="#fff" stroke="#000" stroke-width="1.45"/>
<line x1="269.44" y1="75.33" x2="269.44" y2="94.05" stroke="#000" stroke-width="1.45"/>
<rect x="266.05" y="83.30" width="6.77" height="5.45" fill="#000"/>
<line x1="276.12" y1="79.34" x2="276.12" y2="114.11" stroke="#d00029" stroke-width="1.45"/>
<rect x="272.74" y="85.98" width="6.77" height="25.51" fill="#d00029"/>
<line x1="282.81" y1="99.40" x2="282.81" y2="119.46" stroke="#000" stroke-width="1.45"/>
<rect x="280.13" y="105.42" width="5.35" height="12.03" fill="#fff" stroke="#000" stroke-width="1.45"/>
<line x1="289.49" y1="108.76" x2="289.49" y2="131.49" stroke="#d00029" stroke-width="1.45"/>
<rect x="286.11" y="115.39" width="6.77" height="13.47" fill="#d00029"/>
<line x1="296.18" y1="118.12" x2="296.18" y2="156.90" stroke="#d00029" stroke-width="1.45"/>
<rect x="292.80" y="126.09" width="6.77" height="28.18" fill="#d00029"/>
<line x1="302.86" y1="128.82" x2="302.86" y2="170.27" stroke="#d00029" stroke-width="1.45"/>
<rect x="299.48" y="147.49" width="6.77" height="20.16" fill="#d00029"/>
<line x1="309.55" y1="152.88" x2="309.55" y2="183.64" stroke="#d00029" stroke-width="1.45"/>
<rect x="306.17" y="166.21" width="6.77" height="16.15" fill="#d00029"/>
<line x1="316.24" y1="182.30" x2="316.24" y2="241.14" stroke="#d00029" stroke-width="1.45"/>
<rect x="313.56" y="188.32" width="5.35" height="12.03" fill="#fff" stroke="#d00029" stroke-width="1.45"/>
<line x1="322.92" y1="178.29" x2="322.92" y2="223.75" stroke="#d00029" stroke-width="1.45"/>
<rect x="320.25" y="201.69" width="5.35" height="6.69" fill="#fff" stroke="#d00029" stroke-width="1.45"/>
<line x1="329.61" y1="166.26" x2="329.61" y2="217.07" stroke="#d00029" stroke-width="1.45"/>
<rect x="326.22" y="172.89" width="6.77" height="30.85" fill="#d00029"/>
<line x1="336.29" y1="170.27" x2="336.29" y2="214.39" stroke="#d00029" stroke-width="1.45"/>
<rect x="332.91" y="180.91" width="6.77" height="25.51" fill="#d00029"/>
<line x1="342.98" y1="123.47" x2="342.98" y2="179.63" stroke="#000" stroke-width="1.45"/>
<rect x="340.30" y="124.14" width="5.35" height="33.43" fill="#fff" stroke="#000" stroke-width="1.45"/>
<line x1="349.66" y1="91.38" x2="349.66" y2="131.49" stroke="#000" stroke-width="1.45"/>
<rect x="346.99" y="93.38" width="5.35" height="32.09" fill="#fff" stroke="#000" stroke-width="1.45"/>
<line x1="356.35" y1="92.71" x2="356.35" y2="111.43" stroke="#d00029" stroke-width="1.45"/>
<rect x="353.68" y="94.72" width="5.35" height="4.01" fill="#fff" stroke="#d00029" stroke-width="1.45"/>
<line x1="363.04" y1="84.69" x2="363.04" y2="103.41" stroke="#000" stroke-width="1.45"/>
<rect x="360.36" y="85.36" width="5.35" height="8.02" fill="#fff" stroke="#000" stroke-width="1.45"/>
<line x1="369.72" y1="82.02" x2="369.72" y2="112.77" stroke="#d00029" stroke-width="1.45"/>
<rect x="366.34" y="94.00" width="6.77" height="13.47" fill="#d00029"/>
<line x1="376.41" y1="95.39" x2="376.41" y2="120.79" stroke="#d00029" stroke-width="1.45"/>
<rect x="373.73" y="108.09" width="5.35" height="5.35" fill="#fff" stroke="#d00029" stroke-width="1.45"/>
<line x1="383.09" y1="96.72" x2="383.09" y2="119.46" stroke="#d00029" stroke-width="1.45"/>
<rect x="379.71" y="104.70" width="6.77" height="9.46" fill="#d00029"/>
<line x1="389.78" y1="87.36" x2="389.78" y2="115.44" stroke="#000" stroke-width="1.45"/>
<rect x="387.10" y="90.71" width="5.35" height="22.73" fill="#fff" stroke="#000" stroke-width="1.45"/>
<line x1="396.46" y1="78.00" x2="396.46" y2="91.38" stroke="#000" stroke-width="1.45"/>
<rect x="393.79" y="81.35" width="5.35" height="1.34" fill="#fff" stroke="#000" stroke-width="1.45"/>
<line x1="403.15" y1="86.03" x2="403.15" y2="115.44" stroke="#d00029" stroke-width="1.45"/>
<rect x="399.77" y="95.34" width="6.77" height="16.15" fill="#d00029"/>
<line x1="409.84" y1="103.41" x2="409.84" y2="139.51" stroke="#d00029" stroke-width="1.45"/>
<rect x="406.45" y="107.37" width="6.77" height="28.18" fill="#d00029"/>
<line x1="416.52" y1="127.48" x2="416.52" y2="150.21" stroke="#000" stroke-width="1.45"/>
<rect x="413.85" y="133.50" width="5.35" height="10.70" fill="#fff" stroke="#000" stroke-width="1.45"/>
<line x1="423.21" y1="103.41" x2="423.21" y2="123.47" stroke="#000" stroke-width="1.45"/>
<rect x="420.53" y="105.42" width="5.35" height="13.37" fill="#fff" stroke="#000" stroke-width="1.45"/>
<line x1="429.89" y1="100.74" x2="429.89" y2="126.14" stroke="#d00029" stroke-width="1.45"/>
<rect x="427.22" y="106.75" width="5.35" height="5.35" fill="#fff" stroke="#d00029" stroke-width="1.45"/>
<line x1="436.58" y1="111.43" x2="436.58" y2="136.84" stroke="#d00029" stroke-width="1.45"/>
<rect x="433.20" y="116.73" width="6.77" height="17.48" fill="#d00029"/>
<line x1="443.26" y1="120.79" x2="443.26" y2="152.88" stroke="#d00029" stroke-width="1.45"/>
<rect x="439.88" y="126.09" width="6.77" height="18.82" fill="#d00029"/>
<line x1="449.95" y1="148.87" x2="449.95" y2="183.64" stroke="#d00029" stroke-width="1.45"/>
<rect x="446.57" y="160.86" width="6.77" height="6.79" fill="#d00029"/>
<line x1="456.64" y1="152.88" x2="456.64" y2="201.02" stroke="#d00029" stroke-width="1.45"/>
<rect x="453.25" y="156.85" width="6.77" height="41.55" fill="#d00029"/>
<line x1="463.32" y1="176.95" x2="463.32" y2="261.19" stroke="#000" stroke-width="1.45"/>
<rect x="460.65" y="177.62" width="5.35" height="78.89" fill="#fff" stroke="#000" stroke-width="1.45"/>
<line x1="470.01" y1="159.57" x2="470.01" y2="193.00" stroke="#000" stroke-width="1.45"/>
<rect x="467.33" y="162.91" width="5.35" height="6.69" fill="#fff" stroke="#000" stroke-width="1.45"/>
<line x1="476.69" y1="158.23" x2="476.69" y2="180.96" stroke="#000" stroke-width="1.45"/>
<rect x="474.02" y="160.24" width="5.35" height="16.05" fill="#fff" stroke="#000" stroke-width="1.45"/>
<line x1="483.38" y1="148.87" x2="483.38" y2="184.98" stroke="#d00029" stroke-width="1.45"/>
<rect x="480.00" y="163.53" width="6.77" height="12.13" fill="#d00029"/>
<line x1="490.06" y1="143.52" x2="490.06" y2="176.95" stroke="#000" stroke-width="1.45"/>
<rect x="487.39" y="149.54" width="5.35" height="16.05" fill="#fff" stroke="#000" stroke-width="1.45"/>
<line x1="496.75" y1="132.83" x2="496.75" y2="158.23" stroke="#d00029" stroke-width="1.45"/>
<rect x="493.37" y="135.45" width="6.77" height="17.48" fill="#d00029"/>
<line x1="503.44" y1="156.90" x2="503.44" y2="183.64" stroke="#d00029" stroke-width="1.45"/>
<rect x="500.05" y="164.87" width="6.77" height="10.80" fill="#d00029"/>
<line x1="510.12" y1="160.91" x2="510.12" y2="206.37" stroke="#d00029" stroke-width="1.45"/>
<rect x="506.74" y="172.89" width="6.77" height="32.19" fill="#d00029"/>
<line x1="516.81" y1="176.95" x2="516.81" y2="231.78" stroke="#d00029" stroke-width="1.45"/>
<rect x="513.42" y="206.32" width="6.77" height="12.13" fill="#d00029"/>
<line x1="523.49" y1="172.94" x2="523.49" y2="203.70" stroke="#000" stroke-width="1.45"/>
<rect x="520.82" y="176.28" width="5.35" height="10.70" fill="#fff" stroke="#000" stroke-width="1.45"/>
<line x1="530.18" y1="195.67" x2="530.18" y2="230.44" stroke="#d00029" stroke-width="1.45"/>
<rect x="526.80" y="196.96" width="6.77" height="13.47" fill="#d00029"/>
<line x1="536.86" y1="203.70" x2="536.86" y2="241.14" stroke="#d00029" stroke-width="1.45"/>
<rect x="533.48" y="206.32" width="6.77" height="33.53" fill="#d00029"/>
<line x1="543.55" y1="243.81" x2="543.55" y2="277.24" stroke="#d00029" stroke-width="1.45"/>
<rect x="540.17" y="265.15" width="6.77" height="8.12" fill="#d00029"/>
<line x1="550.24" y1="231.78" x2="550.24" y2="274.56" stroke="#000" stroke-width="1.45"/>
<rect x="547.56" y="236.46" width="5.35" height="33.43" fill="#fff" stroke="#000" stroke-width="1.45"/>
<line x1="556.92" y1="198.35" x2="556.92" y2="242.47" stroke="#000" stroke-width="1.45"/>
<rect x="554.25" y="201.69" width="5.35" height="20.06" fill="#fff" stroke="#000" stroke-width="1.45"/>
<line x1="563.61" y1="190.32" x2="563.61" y2="217.07" stroke="#000" stroke-width="1.45"/>
<rect x="560.93" y="193.67" width="5.35" height="16.05" fill="#fff" stroke="#000" stroke-width="1.45"/>
<line x1="570.29" y1="164.92" x2="570.29" y2="201.02" stroke="#000" stroke-width="1.45"/>
<rect x="567.62" y="169.60" width="5.35" height="25.41" fill="#fff" stroke="#000" stroke-width="1.45"/>
<line x1="576.98" y1="150.21" x2="576.98" y2="176.95" stroke="#000" stroke-width="1.45"/>
<rect x="574.30" y="158.90" width="5.35" height="13.37" fill="#fff" stroke="#000" stroke-width="1.45"/>
<line x1="583.66" y1="128.82" x2="583.66" y2="162.24" stroke="#000" stroke-width="1.45"/>
<rect x="580.99" y="133.50" width="5.35" height="24.07" fill="#fff" stroke="#000" stroke-width="1.45"/>
<line x1="590.35" y1="106.08" x2="590.35" y2="142.19" stroke="#000" stroke-width="1.45"/>
<rect x="587.68" y="124.14" width="5.35" height="16.05" fill="#fff" stroke="#000" stroke-width="1.45"/>
<line x1="597.04" y1="95.39" x2="597.04" y2="124.80" stroke="#000" stroke-width="1.45"/>
<rect x="594.36" y="96.06" width="5.35" height="21.39" fill="#fff" stroke="#000" stroke-width="1.45"/>
<line x1="603.72" y1="87.36" x2="603.72" y2="106.08" stroke="#000" stroke-width="1.45"/>
<rect x="601.05" y="92.04" width="5.35" height="5.35" fill="#fff" stroke="#000" stroke-width="1.45"/>
<line x1="610.41" y1="84.69" x2="610.41" y2="111.43" stroke="#000" stroke-width="1.45"/>
<rect x="607.73" y="85.36" width="5.35" height="24.07" fill="#fff" stroke="#000" stroke-width="1.45"/>
<line x1="617.09" y1="61.96" x2="617.09" y2="82.02" stroke="#000" stroke-width="1.45"/>
<rect x="614.42" y="62.63" width="5.35" height="16.05" fill="#fff" stroke="#000" stroke-width="1.45"/>
<line x1="623.78" y1="57.95" x2="623.78" y2="79.34" stroke="#d00029" stroke-width="1.45"/>
<rect x="620.40" y="64.58" width="6.77" height="6.79" fill="#d00029"/>
<line x1="630.46" y1="68.64" x2="630.46" y2="95.39" stroke="#d00029" stroke-width="1.45"/>
<rect x="627.08" y="69.93" width="6.77" height="24.17" fill="#d00029"/>
<line x1="637.15" y1="90.04" x2="637.15" y2="112.77" stroke="#d00029" stroke-width="1.45"/>
<rect x="634.48" y="94.72" width="5.35" height="2.67" fill="#fff" stroke="#d00029" stroke-width="1.45"/>
<line x1="643.84" y1="65.97" x2="643.84" y2="94.05" stroke="#000" stroke-width="1.45"/>
<rect x="641.16" y="66.64" width="5.35" height="26.74" fill="#fff" stroke="#000" stroke-width="1.45"/>
<line x1="650.52" y1="67.31" x2="650.52" y2="95.39" stroke="#d00029" stroke-width="1.45"/>
<rect x="647.14" y="72.61" width="6.77" height="17.48" fill="#d00029"/>
<line x1="657.21" y1="99.40" x2="657.21" y2="124.80" stroke="#d00029" stroke-width="1.45"/>
<rect x="653.82" y="107.37" width="6.77" height="5.45" fill="#d00029"/>
<line x1="663.89" y1="100.74" x2="663.89" y2="127.48" stroke="#000" stroke-width="1.45"/>
<rect x="661.22" y="109.43" width="5.35" height="8.02" fill="#fff" stroke="#000" stroke-width="1.45"/>
<line x1="670.58" y1="111.43" x2="670.58" y2="131.49" stroke="#d00029" stroke-width="1.45"/>
<rect x="667.20" y="111.38" width="6.77" height="13.47" fill="#d00029"/>
<line x1="677.26" y1="131.49" x2="677.26" y2="158.23" stroke="#d00029" stroke-width="1.45"/>
<rect x="673.88" y="134.11" width="6.77" height="22.83" fill="#d00029"/>
<line x1="683.95" y1="126.14" x2="683.95" y2="150.21" stroke="#000" stroke-width="1.45"/>
<rect x="680.57" y="138.13" width="6.77" height="4.11" fill="#000"/>
<line x1="690.64" y1="116.78" x2="690.64" y2="148.87" stroke="#000" stroke-width="1.45"/>
<rect x="687.96" y="122.80" width="5.35" height="21.39" fill="#fff" stroke="#000" stroke-width="1.45"/>
<line x1="697.32" y1="115.44" x2="697.32" y2="162.24" stroke="#d00029" stroke-width="1.45"/>
<rect x="693.94" y="120.74" width="6.77" height="38.88" fill="#d00029"/>
<line x1="704.01" y1="148.87" x2="704.01" y2="172.94" stroke="#d00029" stroke-width="1.45"/>
<rect x="701.33" y="160.24" width="5.35" height="9.36" fill="#fff" stroke="#d00029" stroke-width="1.45"/>
<line x1="710.69" y1="140.85" x2="710.69" y2="170.27" stroke="#000" stroke-width="1.45"/>
<rect x="708.02" y="144.19" width="5.35" height="17.38" fill="#fff" stroke="#000" stroke-width="1.45"/>
<line x1="717.38" y1="132.83" x2="717.38" y2="154.22" stroke="#d00029" stroke-width="1.45"/>
<rect x="714.00" y="132.78" width="6.77" height="13.47" fill="#d00029"/>
<line x1="724.06" y1="114.11" x2="724.06" y2="155.56" stroke="#d00029" stroke-width="1.45"/>
<rect x="720.68" y="132.78" width="6.77" height="18.82" fill="#d00029"/>
<line x1="730.75" y1="139.51" x2="730.75" y2="187.65" stroke="#d00029" stroke-width="1.45"/>
<rect x="727.37" y="150.16" width="6.77" height="36.20" fill="#d00029"/>
<line x1="737.44" y1="174.28" x2="737.44" y2="211.72" stroke="#000" stroke-width="1.45"/>
<rect x="734.76" y="177.62" width="5.35" height="12.03" fill="#fff" stroke="#000" stroke-width="1.45"/>
<line x1="744.12" y1="180.96" x2="744.12" y2="225.09" stroke="#d00029" stroke-width="1.45"/>
<rect x="740.74" y="180.91" width="6.77" height="42.89" fill="#d00029"/>
<line x1="750.81" y1="199.68" x2="750.81" y2="234.45" stroke="#d00029" stroke-width="1.45"/>
<rect x="748.13" y="224.42" width="5.35" height="5.35" fill="#fff" stroke="#d00029" stroke-width="1.45"/>
<line x1="757.49" y1="164.92" x2="757.49" y2="207.71" stroke="#000" stroke-width="1.45"/>
<rect x="754.82" y="170.94" width="5.35" height="33.43" fill="#fff" stroke="#000" stroke-width="1.45"/>
<line x1="764.18" y1="151.55" x2="764.18" y2="219.74" stroke="#d00029" stroke-width="1.45"/>
<rect x="760.80" y="183.59" width="6.77" height="33.53" fill="#d00029"/>
<line x1="770.86" y1="211.72" x2="770.86" y2="251.83" stroke="#000" stroke-width="1.45"/>
<rect x="768.19" y="213.72" width="5.35" height="10.70" fill="#fff" stroke="#000" stroke-width="1.45"/>
<line x1="777.55" y1="193.00" x2="777.55" y2="227.76" stroke="#000" stroke-width="1.45"/>
<rect x="774.88" y="203.03" width="5.35" height="9.36" fill="#fff" stroke="#000" stroke-width="1.45"/>
<line x1="784.24" y1="150.21" x2="784.24" y2="205.03" stroke="#000" stroke-width="1.45"/>
<rect x="781.56" y="153.55" width="5.35" height="48.14" fill="#fff" stroke="#000" stroke-width="1.45"/>
<line x1="790.92" y1="167.59" x2="790.92" y2="238.46" stroke="#d00029" stroke-width="1.45"/>
<rect x="787.54" y="168.88" width="6.77" height="54.92" fill="#d00029"/>
<line x1="797.61" y1="201.02" x2="797.61" y2="242.47" stroke="#000" stroke-width="1.45"/>
<rect x="794.93" y="217.74" width="5.35" height="9.36" fill="#fff" stroke="#000" stroke-width="1.45"/>
<line x1="804.29" y1="227.76" x2="804.29" y2="263.87" stroke="#d00029" stroke-width="1.45"/>
<rect x="800.91" y="235.74" width="6.77" height="24.17" fill="#d00029"/>
<line x1="810.98" y1="221.08" x2="810.98" y2="251.83" stroke="#000" stroke-width="1.45"/>
<rect x="807.60" y="230.39" width="6.77" height="9.46" fill="#000"/>
<line x1="817.66" y1="231.78" x2="817.66" y2="310.67" stroke="#d00029" stroke-width="1.45"/>
<rect x="814.28" y="246.43" width="6.77" height="57.60" fill="#d00029"/>
<line x1="824.35" y1="305.32" x2="824.35" y2="369.50" stroke="#d00029" stroke-width="1.45"/>
<rect x="820.97" y="334.69" width="6.77" height="2.77" fill="#d00029"/>
<line x1="831.04" y1="289.27" x2="831.04" y2="333.40" stroke="#000" stroke-width="1.45"/>
<rect x="828.36" y="299.30" width="5.35" height="20.06" fill="#fff" stroke="#000" stroke-width="1.45"/>
<line x1="837.72" y1="294.62" x2="837.72" y2="324.04" stroke="#d00029" stroke-width="1.45"/>
<rect x="834.34" y="310.62" width="6.77" height="1.44" fill="#d00029"/>
<line x1="844.41" y1="275.90" x2="844.41" y2="302.64" stroke="#000" stroke-width="1.45"/>
<rect x="841.73" y="281.92" width="5.35" height="2.67" fill="#fff" stroke="#000" stroke-width="1.45"/>
<line x1="851.09" y1="295.96" x2="851.09" y2="360.14" stroke="#d00029" stroke-width="1.45"/>
<rect x="847.71" y="299.92" width="6.77" height="52.25" fill="#d00029"/>
<line x1="857.78" y1="344.10" x2="857.78" y2="389.56" stroke="#d00029" stroke-width="1.45"/>
<rect x="854.40" y="358.75" width="6.77" height="24.17" fill="#d00029"/>
<line x1="864.46" y1="352.12" x2="864.46" y2="390.90" stroke="#d00029" stroke-width="1.45"/>
<rect x="861.08" y="365.44" width="6.77" height="18.82" fill="#d00029"/>
<path d="M62.3 379.6 L69.4 377.5 L76.1 376.2 L82.8 375.0 L89.5 373.9 L96.2 372.7 L102.9 370.0 L109.6 367.8 L116.3 366.0 L123.0 363.6 L129.7 361.2 L136.4 359.3 L143.1 356.9 L149.8 354.1 L156.5 351.6 L163.2 349.7 L169.9 347.1 L176.6 344.4 L183.3 341.9 L190.0 340.0 L196.7 337.6 L203.4 335.2 L212.7 331.9 L219.4 329.8 L226.1 326.9 L232.8 323.9 L239.5 321.2 L246.2 319.3 L252.9 317.3 L259.6 315.6 L266.3 313.4 L273.0 310.8 L279.7 309.2 L286.4 306.8 L293.1 304.9 L299.8 303.5 L306.5 302.1 L313.2 300.8 L319.9 299.3 L326.6 297.9 L333.3 296.4 L340.0 295.1 L346.7 293.8 L353.4 292.5 L362.7 290.0 L369.4 288.3 L376.1 286.8 L382.8 285.4 L389.5 284.0 L396.2 281.8 L402.9 280.4 L409.6 279.1 L416.3 277.8 L423.0 276.1 L429.7 273.8 L436.4 272.4 L443.1 271.1 L449.8 269.8 L456.5 268.4 L463.2 266.9 L469.9 264.6 L476.6 262.9 L483.3 261.6 L490.0 260.2 L496.7 258.6 L503.4 256.8 L512.7 255.9 L519.4 254.0 L526.1 252.6 L532.8 251.5 L539.5 250.3 L546.2 248.9 L552.9 247.7 L559.6 246.4 L566.3 245.2 L573.0 243.8 L579.7 242.0 L586.4 240.3 L593.1 238.8 L599.8 236.9 L606.5 234.9 L613.2 232.9 L619.9 230.8 L626.6 228.9 L633.3 226.9 L640.0 225.0 L646.7 223.5 L653.4 221.9 L662.7 219.7 L669.4 217.8 L676.1 216.2 L682.8 214.9 L689.5 213.9 L696.2 213.1 L702.9 211.9 L709.6 210.8 L716.3 209.8 L723.0 209.0 L729.7 208.5 L736.4 208.1 L743.1 207.7 L749.8 207.1 L756.5 206.5 L763.2 206.0 L769.9 205.4 L776.6 204.7 L783.3 204.1 L790.0 203.6 L796.7 203.3 L811.8 203.1 L830.0 203.1 L850.0 203.1 L864.6 203.1" fill="none" stroke="#dc143c" stroke-width="1.5" stroke-linejoin="round" stroke-linecap="butt"/>
<path d="M62.3 290.9 L69.4 287.0 L75.6 284.6 L82.0 281.2 L89.5 279.0 L95.7 275.4 L102.4 271.2 L109.1 265.7 L115.8 260.2 L122.5 254.8 L129.2 249.8 L135.9 244.2 L142.6 237.7 L149.3 233.2 L156.0 228.3 L162.6 224.0 L169.3 220.0 L176.0 214.9 L182.7 209.7 L189.4 204.4 L196.1 198.9 L202.8 193.7 L209.5 189.6 L216.2 184.8 L222.9 180.3 L229.6 175.2 L236.3 171.0 L243.0 167.7 L249.7 164.1 L256.7 160.6 L263.4 156.5 L270.1 152.7 L276.8 149.1 L283.5 146.0 L290.2 143.7 L296.9 142.0 L303.6 141.0 L310.3 139.4 L317.0 137.7 L323.7 135.9 L330.4 133.6 L337.1 131.0 L343.8 128.4 L350.5 126.2 L357.2 124.0 L363.9 121.7 L370.6 119.5 L377.3 117.5 L384.0 115.6 L390.7 113.7 L397.4 112.0 L402.0 111.5 L408.4 110.9 L416.7 110.4 L423.5 108.1 L430.1 107.3 L436.9 107.6 L443.6 108.8 L450.3 110.6 L457.0 113.1 L463.7 114.8 L470.4 116.5 L477.0 118.8 L483.8 120.2 L490.5 120.2 L497.2 119.9 L503.9 121.5 L510.6 124.3 L517.3 126.9 L524.0 129.4 L530.7 132.2 L537.4 136.1 L544.1 139.9 L550.8 142.8 L556.7 146.0 L563.4 149.7 L570.1 151.0 L576.8 151.2 L583.5 151.9 L590.2 152.2 L596.9 152.2 L603.6 152.2 L610.3 152.1 L617.0 150.7 L623.7 149.4 L630.4 148.0 L637.1 146.5 L643.8 144.4 L650.5 142.7 L657.2 140.9 L663.9 138.6 L670.6 137.2 L677.3 137.4 L684.0 139.2 L690.7 140.6 L697.4 141.6 L706.7 143.1 L713.4 143.6 L720.1 143.7 L725.1 144.2 L730.2 146.3 L736.9 147.8 L743.6 149.6 L750.3 151.9 L757.0 153.4 L763.7 154.8 L770.4 156.2 L777.1 157.4 L783.8 157.6 L790.5 158.6 L797.2 158.8 L803.9 160.4 L810.6 162.8 L817.3 165.0 L824.0 168.6 L830.7 171.5 L837.4 173.7 L844.1 175.0 L850.8 177.4 L857.8 180.8 L864.6 183.4" fill="none" stroke="#2a2aa4" stroke-width="1.6" stroke-linejoin="round" stroke-linecap="butt"/>
</g>
<g>
<line x1="62.30" y1="0.00" x2="62.30" y2="399.90" stroke="#c0c0c0" stroke-width="1.34" />
<line x1="873.80" y1="0.00" x2="873.80" y2="399.90" stroke="#c0c0c0" stroke-width="1.34" />
<line x1="62.30" y1="27.95" x2="873.80" y2="27.95" stroke="#c0c0c0" stroke-width="1.34" />
<line x1="62.30" y1="418.60" x2="873.80" y2="418.60" stroke="#c0c0c0" stroke-width="1.34" />
<line x1="62.30" y1="418.60" x2="62.30" y2="430.00" stroke="#c0c0c0" stroke-width="1.34" />
<line x1="873.80" y1="418.60" x2="873.80" y2="430.00" stroke="#c0c0c0" stroke-width="1.34" />
<line x1="873.80" y1="37.22" x2="877.10" y2="37.22" stroke="#c0c0c0" stroke-width="1.34" />
<line x1="873.80" y1="54.60" x2="877.10" y2="54.60" stroke="#c0c0c0" stroke-width="1.34" />
<line x1="873.80" y1="70.65" x2="877.10" y2="70.65" stroke="#c0c0c0" stroke-width="1.34" />
<line x1="873.80" y1="88.03" x2="877.10" y2="88.03" stroke="#c0c0c0" stroke-width="1.34" />
<line x1="873.80" y1="105.42" x2="877.10" y2="105.42" stroke="#c0c0c0" stroke-width="1.34" />
<line x1="873.80" y1="122.80" x2="877.10" y2="122.80" stroke="#c0c0c0" stroke-width="1.34" />
<line x1="873.80" y1="141.52" x2="877.10" y2="141.52" stroke="#c0c0c0" stroke-width="1.34" />
<line x1="873.80" y1="160.24" x2="877.10" y2="160.24" stroke="#c0c0c0" stroke-width="1.34" />
<line x1="873.80" y1="177.62" x2="877.10" y2="177.62" stroke="#c0c0c0" stroke-width="1.34" />
<line x1="873.80" y1="196.34" x2="877.10" y2="196.34" stroke="#c0c0c0" stroke-width="1.34" />
<line x1="873.80" y1="216.40" x2="877.10" y2="216.40" stroke="#c0c0c0" stroke-width="1.34" />
<line x1="873.80" y1="235.12" x2="877.10" y2="235.12" stroke="#c0c0c0" stroke-width="1.34" />
<line x1="873.80" y1="255.18" x2="877.10" y2="255.18" stroke="#c0c0c0" stroke-width="1.34" />
<line x1="873.80" y1="275.23" x2="877.10" y2="275.23" stroke="#c0c0c0" stroke-width="1.34" />
<line x1="873.80" y1="295.29" x2="877.10" y2="295.29" stroke="#c0c0c0" stroke-width="1.34" />
<line x1="873.80" y1="316.68" x2="877.10" y2="316.68" stroke="#c0c0c0" stroke-width="1.34" />
<line x1="873.80" y1="336.74" x2="877.10" y2="336.74" stroke="#c0c0c0" stroke-width="1.34" />
<line x1="873.80" y1="358.14" x2="877.10" y2="358.14" stroke="#c0c0c0" stroke-width="1.34" />
<line x1="873.80" y1="380.87" x2="877.10" y2="380.87" stroke="#c0c0c0" stroke-width="1.34" />
<line x1="59.00" y1="373.70" x2="62.30" y2="373.70" stroke="#c0c0c0" stroke-width="1.34" />
<line x1="59.00" y1="347.80" x2="62.30" y2="347.80" stroke="#c0c0c0" stroke-width="1.34" />
<line x1="59.00" y1="321.90" x2="62.30" y2="321.90" stroke="#c0c0c0" stroke-width="1.34" />
<line x1="59.00" y1="296.00" x2="62.30" y2="296.00" stroke="#c0c0c0" stroke-width="1.34" />
<line x1="873.80" y1="7.60" x2="877.10" y2="7.60" stroke="#c0c0c0" stroke-width="1.34" />
<line x1="873.80" y1="18.30" x2="875.80" y2="18.30" stroke="#c0c0c0" stroke-width="1.34" />
<line x1="62.18" y1="399.90" x2="62.18" y2="401.90" stroke="#c0c0c0" stroke-width="1.34" />
<line x1="62.18" y1="416.60" x2="62.18" y2="418.60" stroke="#c0c0c0" stroke-width="1.34" />
<line x1="68.86" y1="399.90" x2="68.86" y2="401.90" stroke="#c0c0c0" stroke-width="1.34" />
<line x1="68.86" y1="416.60" x2="68.86" y2="418.60" stroke="#c0c0c0" stroke-width="1.34" />
<line x1="75.55" y1="399.90" x2="75.55" y2="403.20" stroke="#c0c0c0" stroke-width="1.34" />
<line x1="75.55" y1="415.30" x2="75.55" y2="418.60" stroke="#c0c0c0" stroke-width="1.34" />
<line x1="82.24" y1="399.90" x2="82.24" y2="401.90" stroke="#c0c0c0" stroke-width="1.34" />
<line x1="82.24" y1="416.60" x2="82.24" y2="418.60" stroke="#c0c0c0" stroke-width="1.34" />
<line x1="88.92" y1="399.90" x2="88.92" y2="401.90" stroke="#c0c0c0" stroke-width="1.34" />
<line x1="88.92" y1="416.60" x2="88.92" y2="418.60" stroke="#c0c0c0" stroke-width="1.34" />
<line x1="95.61" y1="399.90" x2="95.61" y2="403.20" stroke="#c0c0c0" stroke-width="1.34" />
<line x1="95.61" y1="415.30" x2="95.61" y2="418.60" stroke="#c0c0c0" stroke-width="1.34" />
<line x1="102.29" y1="399.90" x2="102.29" y2="401.90" stroke="#c0c0c0" stroke-width="1.34" />
<line x1="102.29" y1="416.60" x2="102.29" y2="418.60" stroke="#c0c0c0" stroke-width="1.34" />
<line x1="108.98" y1="399.90" x2="108.98" y2="401.90" stroke="#c0c0c0" stroke-width="1.34" />
<line x1="108.98" y1="416.60" x2="108.98" y2="418.60" stroke="#c0c0c0" stroke-width="1.34" />
<line x1="115.66" y1="399.90" x2="115.66" y2="401.90" stroke="#c0c0c0" stroke-width="1.34" />
<line x1="115.66" y1="416.60" x2="115.66" y2="418.60" stroke="#c0c0c0" stroke-width="1.34" />
<line x1="122.35" y1="399.90" x2="122.35" y2="401.90" stroke="#c0c0c0" stroke-width="1.34" />
<line x1="122.35" y1="416.60" x2="122.35" y2="418.60" stroke="#c0c0c0" stroke-width="1.34" />
<line x1="129.04" y1="399.90" x2="129.04" y2="403.20" stroke="#c0c0c0" stroke-width="1.34" />
<line x1="129.04" y1="415.30" x2="129.04" y2="418.60" stroke="#c0c0c0" stroke-width="1.34" />
<line x1="135.72" y1="399.90" x2="135.72" y2="401.90" stroke="#c0c0c0" stroke-width="1.34" />
<line x1="135.72" y1="416.60" x2="135.72" y2="418.60" stroke="#c0c0c0" stroke-width="1.34" />
<line x1="142.41" y1="399.90" x2="142.41" y2="401.90" stroke="#c0c0c0" stroke-width="1.34" />
<line x1="142.41" y1="416.60" x2="142.41" y2="418.60" stroke="#c0c0c0" stroke-width="1.34" />
<line x1="149.09" y1="399.90" x2="149.09" y2="401.90" stroke="#c0c0c0" stroke-width="1.34" />
<line x1="149.09" y1="416.60" x2="149.09" y2="418.60" stroke="#c0c0c0" stroke-width="1.34" />
<line x1="155.78" y1="399.90" x2="155.78" y2="401.90" stroke="#c0c0c0" stroke-width="1.34" />
<line x1="155.78" y1="416.60" x2="155.78" y2="418.60" stroke="#c0c0c0" stroke-width="1.34" />
<line x1="162.46" y1="399.90" x2="162.46" y2="403.20" stroke="#c0c0c0" stroke-width="1.34" />
<line x1="162.46" y1="415.30" x2="162.46" y2="418.60" stroke="#c0c0c0" stroke-width="1.34" />
<line x1="169.15" y1="399.90" x2="169.15" y2="401.90" stroke="#c0c0c0" stroke-width="1.34" />
<line x1="169.15" y1="416.60" x2="169.15" y2="418.60" stroke="#c0c0c0" stroke-width="1.34" />
<line x1="175.84" y1="399.90" x2="175.84" y2="401.90" stroke="#c0c0c0" stroke-width="1.34" />
<line x1="175.84" y1="416.60" x2="175.84" y2="418.60" stroke="#c0c0c0" stroke-width="1.34" />
<line x1="182.52" y1="399.90" x2="182.52" y2="401.90" stroke="#c0c0c0" stroke-width="1.34" />
<line x1="182.52" y1="416.60" x2="182.52" y2="418.60" stroke="#c0c0c0" stroke-width="1.34" />
<line x1="189.21" y1="399.90" x2="189.21" y2="403.20" stroke="#c0c0c0" stroke-width="1.34" />
<line x1="189.21" y1="415.30" x2="189.21" y2="418.60" stroke="#c0c0c0" stroke-width="1.34" />
<line x1="195.89" y1="399.90" x2="195.89" y2="401.90" stroke="#c0c0c0" stroke-width="1.34" />
<line x1="195.89" y1="416.60" x2="195.89" y2="418.60" stroke="#c0c0c0" stroke-width="1.34" />
<line x1="202.58" y1="399.90" x2="202.58" y2="401.90" stroke="#c0c0c0" stroke-width="1.34" />
<line x1="202.58" y1="416.60" x2="202.58" y2="418.60" stroke="#c0c0c0" stroke-width="1.34" />
<line x1="209.26" y1="399.90" x2="209.26" y2="401.90" stroke="#c0c0c0" stroke-width="1.34" />
<line x1="209.26" y1="416.60" x2="209.26" y2="418.60" stroke="#c0c0c0" stroke-width="1.34" />
<line x1="215.95" y1="399.90" x2="215.95" y2="401.90" stroke="#c0c0c0" stroke-width="1.34" />
<line x1="215.95" y1="416.60" x2="215.95" y2="418.60" stroke="#c0c0c0" stroke-width="1.34" />
<line x1="222.64" y1="399.90" x2="222.64" y2="403.20" stroke="#c0c0c0" stroke-width="1.34" />
<line x1="222.64" y1="415.30" x2="222.64" y2="418.60" stroke="#c0c0c0" stroke-width="1.34" />
<line x1="229.32" y1="399.90" x2="229.32" y2="401.90" stroke="#c0c0c0" stroke-width="1.34" />
<line x1="229.32" y1="416.60" x2="229.32" y2="418.60" stroke="#c0c0c0" stroke-width="1.34" />
<line x1="236.01" y1="399.90" x2="236.01" y2="401.90" stroke="#c0c0c0" stroke-width="1.34" />
<line x1="236.01" y1="416.60" x2="236.01" y2="418.60" stroke="#c0c0c0" stroke-width="1.34" />
<line x1="242.69" y1="399.90" x2="242.69" y2="401.90" stroke="#c0c0c0" stroke-width="1.34" />
<line x1="242.69" y1="416.60" x2="242.69" y2="418.60" stroke="#c0c0c0" stroke-width="1.34" />
<line x1="249.38" y1="399.90" x2="249.38" y2="401.90" stroke="#c0c0c0" stroke-width="1.34" />
<line x1="249.38" y1="416.60" x2="249.38" y2="418.60" stroke="#c0c0c0" stroke-width="1.34" />
<line x1="256.06" y1="399.90" x2="256.06" y2="403.20" stroke="#c0c0c0" stroke-width="1.34" />
<line x1="256.06" y1="415.30" x2="256.06" y2="418.60" stroke="#c0c0c0" stroke-width="1.34" />
<line x1="262.75" y1="399.90" x2="262.75" y2="401.90" stroke="#c0c0c0" stroke-width="1.34" />
<line x1="262.75" y1="416.60" x2="262.75" y2="418.60" stroke="#c0c0c0" stroke-width="1.34" />
<line x1="269.44" y1="399.90" x2="269.44" y2="401.90" stroke="#c0c0c0" stroke-width="1.34" />
<line x1="269.44" y1="416.60" x2="269.44" y2="418.60" stroke="#c0c0c0" stroke-width="1.34" />
<line x1="276.12" y1="399.90" x2="276.12" y2="401.90" stroke="#c0c0c0" stroke-width="1.34" />
<line x1="276.12" y1="416.60" x2="276.12" y2="418.60" stroke="#c0c0c0" stroke-width="1.34" />
<line x1="282.81" y1="399.90" x2="282.81" y2="401.90" stroke="#c0c0c0" stroke-width="1.34" />
<line x1="282.81" y1="416.60" x2="282.81" y2="418.60" stroke="#c0c0c0" stroke-width="1.34" />
<line x1="289.49" y1="399.90" x2="289.49" y2="403.20" stroke="#c0c0c0" stroke-width="1.34" />
<line x1="289.49" y1="415.30" x2="289.49" y2="418.60" stroke="#c0c0c0" stroke-width="1.34" />
<line x1="296.18" y1="399.90" x2="296.18" y2="401.90" stroke="#c0c0c0" stroke-width="1.34" />
<line x1="296.18" y1="416.60" x2="296.18" y2="418.60" stroke="#c0c0c0" stroke-width="1.34" />
<line x1="302.86" y1="399.90" x2="302.86" y2="401.90" stroke="#c0c0c0" stroke-width="1.34" />
<line x1="302.86" y1="416.60" x2="302.86" y2="418.60" stroke="#c0c0c0" stroke-width="1.34" />
<line x1="309.55" y1="399.90" x2="309.55" y2="401.90" stroke="#c0c0c0" stroke-width="1.34" />
<line x1="309.55" y1="416.60" x2="309.55" y2="418.60" stroke="#c0c0c0" stroke-width="1.34" />
<line x1="316.24" y1="399.90" x2="316.24" y2="403.20" stroke="#c0c0c0" stroke-width="1.34" />
<line x1="316.24" y1="415.30" x2="316.24" y2="418.60" stroke="#c0c0c0" stroke-width="1.34" />
<line x1="322.92" y1="399.90" x2="322.92" y2="401.90" stroke="#c0c0c0" stroke-width="1.34" />
<line x1="322.92" y1="416.60" x2="322.92" y2="418.60" stroke="#c0c0c0" stroke-width="1.34" />
<line x1="329.61" y1="399.90" x2="329.61" y2="401.90" stroke="#c0c0c0" stroke-width="1.34" />
<line x1="329.61" y1="416.60" x2="329.61" y2="418.60" stroke="#c0c0c0" stroke-width="1.34" />
<line x1="336.29" y1="399.90" x2="336.29" y2="401.90" stroke="#c0c0c0" stroke-width="1.34" />
<line x1="336.29" y1="416.60" x2="336.29" y2="418.60" stroke="#c0c0c0" stroke-width="1.34" />
<line x1="342.98" y1="399.90" x2="342.98" y2="401.90" stroke="#c0c0c0" stroke-width="1.34" />
<line x1="342.98" y1="416.60" x2="342.98" y2="418.60" stroke="#c0c0c0" stroke-width="1.34" />
<line x1="349.66" y1="399.90" x2="349.66" y2="403.20" stroke="#c0c0c0" stroke-width="1.34" />
<line x1="349.66" y1="415.30" x2="349.66" y2="418.60" stroke="#c0c0c0" stroke-width="1.34" />
<line x1="356.35" y1="399.90" x2="356.35" y2="403.20" stroke="#c0c0c0" stroke-width="1.34" />
<line x1="356.35" y1="415.30" x2="356.35" y2="418.60" stroke="#c0c0c0" stroke-width="1.34" />
<line x1="363.04" y1="399.90" x2="363.04" y2="401.90" stroke="#c0c0c0" stroke-width="1.34" />
<line x1="363.04" y1="416.60" x2="363.04" y2="418.60" stroke="#c0c0c0" stroke-width="1.34" />
<line x1="369.72" y1="399.90" x2="369.72" y2="401.90" stroke="#c0c0c0" stroke-width="1.34" />
<line x1="369.72" y1="416.60" x2="369.72" y2="418.60" stroke="#c0c0c0" stroke-width="1.34" />
<line x1="376.41" y1="399.90" x2="376.41" y2="401.90" stroke="#c0c0c0" stroke-width="1.34" />
<line x1="376.41" y1="416.60" x2="376.41" y2="418.60" stroke="#c0c0c0" stroke-width="1.34" />
<line x1="383.09" y1="399.90" x2="383.09" y2="403.20" stroke="#c0c0c0" stroke-width="1.34" />
<line x1="383.09" y1="415.30" x2="383.09" y2="418.60" stroke="#c0c0c0" stroke-width="1.34" />
<line x1="389.78" y1="399.90" x2="389.78" y2="401.90" stroke="#c0c0c0" stroke-width="1.34" />
<line x1="389.78" y1="416.60" x2="389.78" y2="418.60" stroke="#c0c0c0" stroke-width="1.34" />
<line x1="396.46" y1="399.90" x2="396.46" y2="401.90" stroke="#c0c0c0" stroke-width="1.34" />
<line x1="396.46" y1="416.60" x2="396.46" y2="418.60" stroke="#c0c0c0" stroke-width="1.34" />
<line x1="403.15" y1="399.90" x2="403.15" y2="401.90" stroke="#c0c0c0" stroke-width="1.34" />
<line x1="403.15" y1="416.60" x2="403.15" y2="418.60" stroke="#c0c0c0" stroke-width="1.34" />
<line x1="409.84" y1="399.90" x2="409.84" y2="401.90" stroke="#c0c0c0" stroke-width="1.34" />
<line x1="409.84" y1="416.60" x2="409.84" y2="418.60" stroke="#c0c0c0" stroke-width="1.34" />
<line x1="416.52" y1="399.90" x2="416.52" y2="403.20" stroke="#c0c0c0" stroke-width="1.34" />
<line x1="416.52" y1="415.30" x2="416.52" y2="418.60" stroke="#c0c0c0" stroke-width="1.34" />
<line x1="423.21" y1="399.90" x2="423.21" y2="401.90" stroke="#c0c0c0" stroke-width="1.34" />
<line x1="423.21" y1="416.60" x2="423.21" y2="418.60" stroke="#c0c0c0" stroke-width="1.34" />
<line x1="429.89" y1="399.90" x2="429.89" y2="401.90" stroke="#c0c0c0" stroke-width="1.34" />
<line x1="429.89" y1="416.60" x2="429.89" y2="418.60" stroke="#c0c0c0" stroke-width="1.34" />
<line x1="436.58" y1="399.90" x2="436.58" y2="401.90" stroke="#c0c0c0" stroke-width="1.34" />
<line x1="436.58" y1="416.60" x2="436.58" y2="418.60" stroke="#c0c0c0" stroke-width="1.34" />
<line x1="443.26" y1="399.90" x2="443.26" y2="401.90" stroke="#c0c0c0" stroke-width="1.34" />
<line x1="443.26" y1="416.60" x2="443.26" y2="418.60" stroke="#c0c0c0" stroke-width="1.34" />
<line x1="449.95" y1="399.90" x2="449.95" y2="403.20" stroke="#c0c0c0" stroke-width="1.34" />
<line x1="449.95" y1="415.30" x2="449.95" y2="418.60" stroke="#c0c0c0" stroke-width="1.34" />
<line x1="456.64" y1="399.90" x2="456.64" y2="401.90" stroke="#c0c0c0" stroke-width="1.34" />
<line x1="456.64" y1="416.60" x2="456.64" y2="418.60" stroke="#c0c0c0" stroke-width="1.34" />
<line x1="463.32" y1="399.90" x2="463.32" y2="401.90" stroke="#c0c0c0" stroke-width="1.34" />
<line x1="463.32" y1="416.60" x2="463.32" y2="418.60" stroke="#c0c0c0" stroke-width="1.34" />
<line x1="470.01" y1="399.90" x2="470.01" y2="401.90" stroke="#c0c0c0" stroke-width="1.34" />
<line x1="470.01" y1="416.60" x2="470.01" y2="418.60" stroke="#c0c0c0" stroke-width="1.34" />
<line x1="476.69" y1="399.90" x2="476.69" y2="403.20" stroke="#c0c0c0" stroke-width="1.34" />
<line x1="476.69" y1="415.30" x2="476.69" y2="418.60" stroke="#c0c0c0" stroke-width="1.34" />
<line x1="483.38" y1="399.90" x2="483.38" y2="403.20" stroke="#c0c0c0" stroke-width="1.34" />
<line x1="483.38" y1="415.30" x2="483.38" y2="418.60" stroke="#c0c0c0" stroke-width="1.34" />
<line x1="490.06" y1="399.90" x2="490.06" y2="401.90" stroke="#c0c0c0" stroke-width="1.34" />
<line x1="490.06" y1="416.60" x2="490.06" y2="418.60" stroke="#c0c0c0" stroke-width="1.34" />
<line x1="496.75" y1="399.90" x2="496.75" y2="401.90" stroke="#c0c0c0" stroke-width="1.34" />
<line x1="496.75" y1="416.60" x2="496.75" y2="418.60" stroke="#c0c0c0" stroke-width="1.34" />
<line x1="503.44" y1="399.90" x2="503.44" y2="401.90" stroke="#c0c0c0" stroke-width="1.34" />
<line x1="503.44" y1="416.60" x2="503.44" y2="418.60" stroke="#c0c0c0" stroke-width="1.34" />
<line x1="510.12" y1="399.90" x2="510.12" y2="403.20" stroke="#c0c0c0" stroke-width="1.34" />
<line x1="510.12" y1="415.30" x2="510.12" y2="418.60" stroke="#c0c0c0" stroke-width="1.34" />
<line x1="516.81" y1="399.90" x2="516.81" y2="401.90" stroke="#c0c0c0" stroke-width="1.34" />
<line x1="516.81" y1="416.60" x2="516.81" y2="418.60" stroke="#c0c0c0" stroke-width="1.34" />
<line x1="523.49" y1="399.90" x2="523.49" y2="401.90" stroke="#c0c0c0" stroke-width="1.34" />
<line x1="523.49" y1="416.60" x2="523.49" y2="418.60" stroke="#c0c0c0" stroke-width="1.34" />
<line x1="530.18" y1="399.90" x2="530.18" y2="401.90" stroke="#c0c0c0" stroke-width="1.34" />
<line x1="530.18" y1="416.60" x2="530.18" y2="418.60" stroke="#c0c0c0" stroke-width="1.34" />
<line x1="536.86" y1="399.90" x2="536.86" y2="401.90" stroke="#c0c0c0" stroke-width="1.34" />
<line x1="536.86" y1="416.60" x2="536.86" y2="418.60" stroke="#c0c0c0" stroke-width="1.34" />
<line x1="543.55" y1="399.90" x2="543.55" y2="403.20" stroke="#c0c0c0" stroke-width="1.34" />
<line x1="543.55" y1="415.30" x2="543.55" y2="418.60" stroke="#c0c0c0" stroke-width="1.34" />
<line x1="550.24" y1="399.90" x2="550.24" y2="401.90" stroke="#c0c0c0" stroke-width="1.34" />
<line x1="550.24" y1="416.60" x2="550.24" y2="418.60" stroke="#c0c0c0" stroke-width="1.34" />
<line x1="556.92" y1="399.90" x2="556.92" y2="401.90" stroke="#c0c0c0" stroke-width="1.34" />
<line x1="556.92" y1="416.60" x2="556.92" y2="418.60" stroke="#c0c0c0" stroke-width="1.34" />
<line x1="563.61" y1="399.90" x2="563.61" y2="401.90" stroke="#c0c0c0" stroke-width="1.34" />
<line x1="563.61" y1="416.60" x2="563.61" y2="418.60" stroke="#c0c0c0" stroke-width="1.34" />
<line x1="570.29" y1="399.90" x2="570.29" y2="401.90" stroke="#c0c0c0" stroke-width="1.34" />
<line x1="570.29" y1="416.60" x2="570.29" y2="418.60" stroke="#c0c0c0" stroke-width="1.34" />
<line x1="576.98" y1="399.90" x2="576.98" y2="403.20" stroke="#c0c0c0" stroke-width="1.34" />
<line x1="576.98" y1="415.30" x2="576.98" y2="418.60" stroke="#c0c0c0" stroke-width="1.34" />
<line x1="583.66" y1="399.90" x2="583.66" y2="401.90" stroke="#c0c0c0" stroke-width="1.34" />
<line x1="583.66" y1="416.60" x2="583.66" y2="418.60" stroke="#c0c0c0" stroke-width="1.34" />
<line x1="590.35" y1="399.90" x2="590.35" y2="401.90" stroke="#c0c0c0" stroke-width="1.34" />
<line x1="590.35" y1="416.60" x2="590.35" y2="418.60" stroke="#c0c0c0" stroke-width="1.34" />
<line x1="597.04" y1="399.90" x2="597.04" y2="401.90" stroke="#c0c0c0" stroke-width="1.34" />
<line x1="597.04" y1="416.60" x2="597.04" y2="418.60" stroke="#c0c0c0" stroke-width="1.34" />
<line x1="603.72" y1="399.90" x2="603.72" y2="401.90" stroke="#c0c0c0" stroke-width="1.34" />
<line x1="603.72" y1="416.60" x2="603.72" y2="418.60" stroke="#c0c0c0" stroke-width="1.34" />
<line x1="610.41" y1="399.90" x2="610.41" y2="403.20" stroke="#c0c0c0" stroke-width="1.34" />
<line x1="610.41" y1="415.30" x2="610.41" y2="418.60" stroke="#c0c0c0" stroke-width="1.34" />
<line x1="617.09" y1="399.90" x2="617.09" y2="401.90" stroke="#c0c0c0" stroke-width="1.34" />
<line x1="617.09" y1="416.60" x2="617.09" y2="418.60" stroke="#c0c0c0" stroke-width="1.34" />
<line x1="623.78" y1="399.90" x2="623.78" y2="401.90" stroke="#c0c0c0" stroke-width="1.34" />
<line x1="623.78" y1="416.60" x2="623.78" y2="418.60" stroke="#c0c0c0" stroke-width="1.34" />
<line x1="630.46" y1="399.90" x2="630.46" y2="401.90" stroke="#c0c0c0" stroke-width="1.34" />
<line x1="630.46" y1="416.60" x2="630.46" y2="418.60" stroke="#c0c0c0" stroke-width="1.34" />
<line x1="637.15" y1="399.90" x2="637.15" y2="403.20" stroke="#c0c0c0" stroke-width="1.34" />
<line x1="637.15" y1="415.30" x2="637.15" y2="418.60" stroke="#c0c0c0" stroke-width="1.34" />
<line x1="643.84" y1="399.90" x2="643.84" y2="403.20" stroke="#c0c0c0" stroke-width="1.34" />
<line x1="643.84" y1="415.30" x2="643.84" y2="418.60" stroke="#c0c0c0" stroke-width="1.34" />
<line x1="650.52" y1="399.90" x2="650.52" y2="401.90" stroke="#c0c0c0" stroke-width="1.34" />
<line x1="650.52" y1="416.60" x2="650.52" y2="418.60" stroke="#c0c0c0" stroke-width="1.34" />
<line x1="657.21" y1="399.90" x2="657.21" y2="401.90" stroke="#c0c0c0" stroke-width="1.34" />
<line x1="657.21" y1="416.60" x2="657.21" y2="418.60" stroke="#c0c0c0" stroke-width="1.34" />
<line x1="663.89" y1="399.90" x2="663.89" y2="401.90" stroke="#c0c0c0" stroke-width="1.34" />
<line x1="663.89" y1="416.60" x2="663.89" y2="418.60" stroke="#c0c0c0" stroke-width="1.34" />
<line x1="670.58" y1="399.90" x2="670.58" y2="401.90" stroke="#c0c0c0" stroke-width="1.34" />
<line x1="670.58" y1="416.60" x2="670.58" y2="418.60" stroke="#c0c0c0" stroke-width="1.34" />
<line x1="677.26" y1="399.90" x2="677.26" y2="403.20" stroke="#c0c0c0" stroke-width="1.34" />
<line x1="677.26" y1="415.30" x2="677.26" y2="418.60" stroke="#c0c0c0" stroke-width="1.34" />
<line x1="683.95" y1="399.90" x2="683.95" y2="401.90" stroke="#c0c0c0" stroke-width="1.34" />
<line x1="683.95" y1="416.60" x2="683.95" y2="418.60" stroke="#c0c0c0" stroke-width="1.34" />
<line x1="690.64" y1="399.90" x2="690.64" y2="401.90" stroke="#c0c0c0" stroke-width="1.34" />
<line x1="690.64" y1="416.60" x2="690.64" y2="418.60" stroke="#c0c0c0" stroke-width="1.34" />
<line x1="697.32" y1="399.90" x2="697.32" y2="401.90" stroke="#c0c0c0" stroke-width="1.34" />
<line x1="697.32" y1="416.60" x2="697.32" y2="418.60" stroke="#c0c0c0" stroke-width="1.34" />
<line x1="704.01" y1="399.90" x2="704.01" y2="403.20" stroke="#c0c0c0" stroke-width="1.34" />
<line x1="704.01" y1="415.30" x2="704.01" y2="418.60" stroke="#c0c0c0" stroke-width="1.34" />
<line x1="710.69" y1="399.90" x2="710.69" y2="401.90" stroke="#c0c0c0" stroke-width="1.34" />
<line x1="710.69" y1="416.60" x2="710.69" y2="418.60" stroke="#c0c0c0" stroke-width="1.34" />
<line x1="717.38" y1="399.90" x2="717.38" y2="401.90" stroke="#c0c0c0" stroke-width="1.34" />
<line x1="717.38" y1="416.60" x2="717.38" y2="418.60" stroke="#c0c0c0" stroke-width="1.34" />
<line x1="724.06" y1="399.90" x2="724.06" y2="401.90" stroke="#c0c0c0" stroke-width="1.34" />
<line x1="724.06" y1="416.60" x2="724.06" y2="418.60" stroke="#c0c0c0" stroke-width="1.34" />
<line x1="730.75" y1="399.90" x2="730.75" y2="401.90" stroke="#c0c0c0" stroke-width="1.34" />
<line x1="730.75" y1="416.60" x2="730.75" y2="418.60" stroke="#c0c0c0" stroke-width="1.34" />
<line x1="737.44" y1="399.90" x2="737.44" y2="403.20" stroke="#c0c0c0" stroke-width="1.34" />
<line x1="737.44" y1="415.30" x2="737.44" y2="418.60" stroke="#c0c0c0" stroke-width="1.34" />
<line x1="744.12" y1="399.90" x2="744.12" y2="401.90" stroke="#c0c0c0" stroke-width="1.34" />
<line x1="744.12" y1="416.60" x2="744.12" y2="418.60" stroke="#c0c0c0" stroke-width="1.34" />
<line x1="750.81" y1="399.90" x2="750.81" y2="401.90" stroke="#c0c0c0" stroke-width="1.34" />
<line x1="750.81" y1="416.60" x2="750.81" y2="418.60" stroke="#c0c0c0" stroke-width="1.34" />
<line x1="757.49" y1="399.90" x2="757.49" y2="401.90" stroke="#c0c0c0" stroke-width="1.34" />
<line x1="757.49" y1="416.60" x2="757.49" y2="418.60" stroke="#c0c0c0" stroke-width="1.34" />
<line x1="764.18" y1="399.90" x2="764.18" y2="401.90" stroke="#c0c0c0" stroke-width="1.34" />
<line x1="764.18" y1="416.60" x2="764.18" y2="418.60" stroke="#c0c0c0" stroke-width="1.34" />
<line x1="770.86" y1="399.90" x2="770.86" y2="403.20" stroke="#c0c0c0" stroke-width="1.34" />
<line x1="770.86" y1="415.30" x2="770.86" y2="418.60" stroke="#c0c0c0" stroke-width="1.34" />
<line x1="777.55" y1="399.90" x2="777.55" y2="401.90" stroke="#c0c0c0" stroke-width="1.34" />
<line x1="777.55" y1="416.60" x2="777.55" y2="418.60" stroke="#c0c0c0" stroke-width="1.34" />
<line x1="784.24" y1="399.90" x2="784.24" y2="401.90" stroke="#c0c0c0" stroke-width="1.34" />
<line x1="784.24" y1="416.60" x2="784.24" y2="418.60" stroke="#c0c0c0" stroke-width="1.34" />
<line x1="790.92" y1="399.90" x2="790.92" y2="401.90" stroke="#c0c0c0" stroke-width="1.34" />
<line x1="790.92" y1="416.60" x2="790.92" y2="418.60" stroke="#c0c0c0" stroke-width="1.34" />
<line x1="797.61" y1="399.90" x2="797.61" y2="401.90" stroke="#c0c0c0" stroke-width="1.34" />
<line x1="797.61" y1="416.60" x2="797.61" y2="418.60" stroke="#c0c0c0" stroke-width="1.34" />
<line x1="804.29" y1="399.90" x2="804.29" y2="403.20" stroke="#c0c0c0" stroke-width="1.34" />
<line x1="804.29" y1="415.30" x2="804.29" y2="418.60" stroke="#c0c0c0" stroke-width="1.34" />
<line x1="810.98" y1="399.90" x2="810.98" y2="401.90" stroke="#c0c0c0" stroke-width="1.34" />
<line x1="810.98" y1="416.60" x2="810.98" y2="418.60" stroke="#c0c0c0" stroke-width="1.34" />
<line x1="817.66" y1="399.90" x2="817.66" y2="401.90" stroke="#c0c0c0" stroke-width="1.34" />
<line x1="817.66" y1="416.60" x2="817.66" y2="418.60" stroke="#c0c0c0" stroke-width="1.34" />
<line x1="824.35" y1="399.90" x2="824.35" y2="401.90" stroke="#c0c0c0" stroke-width="1.34" />
<line x1="824.35" y1="416.60" x2="824.35" y2="418.60" stroke="#c0c0c0" stroke-width="1.34" />
<line x1="831.04" y1="399.90" x2="831.04" y2="401.90" stroke="#c0c0c0" stroke-width="1.34" />
<line x1="831.04" y1="416.60" x2="831.04" y2="418.60" stroke="#c0c0c0" stroke-width="1.34" />
<line x1="837.72" y1="399.90" x2="837.72" y2="403.20" stroke="#c0c0c0" stroke-width="1.34" />
<line x1="837.72" y1="415.30" x2="837.72" y2="418.60" stroke="#c0c0c0" stroke-width="1.34" />
<line x1="844.41" y1="399.90" x2="844.41" y2="401.90" stroke="#c0c0c0" stroke-width="1.34" />
<line x1="844.41" y1="416.60" x2="844.41" y2="418.60" stroke="#c0c0c0" stroke-width="1.34" />
<line x1="851.09" y1="399.90" x2="851.09" y2="401.90" stroke="#c0c0c0" stroke-width="1.34" />
<line x1="851.09" y1="416.60" x2="851.09" y2="418.60" stroke="#c0c0c0" stroke-width="1.34" />
<line x1="857.78" y1="399.90" x2="857.78" y2="401.90" stroke="#c0c0c0" stroke-width="1.34" />
<line x1="857.78" y1="416.60" x2="857.78" y2="418.60" stroke="#c0c0c0" stroke-width="1.34" />
<line x1="864.46" y1="399.90" x2="864.46" y2="401.90" stroke="#c0c0c0" stroke-width="1.34" />
<line x1="864.46" y1="416.60" x2="864.46" y2="418.60" stroke="#c0c0c0" stroke-width="1.34" />
</g>
<g font-family="'Liberation Sans', Arial, Helvetica, sans-serif" font-size="13.6" letter-spacing="0.33" fill="#000" stroke="#000" stroke-width="0.3">
<text x="878.6" y="40.4">182.5</text>
<text x="878.6" y="57.8">180.0</text>
<text x="878.6" y="73.9">177.5</text>
<text x="878.6" y="91.2">175.0</text>
<text x="878.6" y="108.6">172.5</text>
<text x="878.6" y="126.0">170.0</text>
<text x="878.6" y="144.7">167.5</text>
<text x="878.6" y="163.4">165.0</text>
<text x="878.6" y="180.8">162.5</text>
<text x="878.6" y="199.5">160.0</text>
<text x="878.6" y="219.6">157.5</text>
<text x="878.6" y="238.3">155.0</text>
<text x="878.6" y="258.4">152.5</text>
<text x="878.6" y="278.4">150.0</text>
<text x="878.6" y="298.5">147.5</text>
<text x="878.6" y="319.9">145.0</text>
<text x="878.6" y="339.9">142.5</text>
<text x="878.6" y="361.3">140.0</text>
<text x="878.9" y="10.9">10</text>
<text x="58.0" y="376.0" text-anchor="end">50M</text>
<text x="58.0" y="350.1" text-anchor="end">100M</text>
<text x="58.0" y="324.2" text-anchor="end">150M</text>
<text x="58.0" y="298.3" text-anchor="end">200M</text>
</g>
<text transform="translate(61.49 413.45) scale(1.0194 1.0)" font-family="'Liberation Sans', Arial, Helvetica, sans-serif" font-size="14.6" font-weight="bold" fill="#000" stroke="#000" stroke-width="0.3">Dec</text>
<text transform="translate(91.19 413.90) scale(1.1154 1.05)" font-family="'Liberation Sans', Arial, Helvetica, sans-serif" font-size="13.37" fill="#000" stroke="#000" stroke-width="0.25">6</text>
<text transform="translate(120.46 413.90) scale(1.0370 1.05)" font-family="'Liberation Sans', Arial, Helvetica, sans-serif" font-size="13.37" fill="#000" stroke="#000" stroke-width="0.25">13</text>
<text transform="translate(153.46 413.90) scale(1.0714 1.05)" font-family="'Liberation Sans', Arial, Helvetica, sans-serif" font-size="13.37" fill="#000" stroke="#000" stroke-width="0.25">20</text>
<text transform="translate(179.98 413.90) scale(1.0364 1.05)" font-family="'Liberation Sans', Arial, Helvetica, sans-serif" font-size="13.37" fill="#000" stroke="#000" stroke-width="0.25">27</text>
<text transform="translate(205.15 413.45) scale(0.9827 1.0)" font-family="'Liberation Sans', Arial, Helvetica, sans-serif" font-size="14.6" font-weight="bold" fill="#000" stroke="#000" stroke-width="0.3">2022</text>
<text transform="translate(246.96 413.90) scale(1.0444 1.05)" font-family="'Liberation Sans', Arial, Helvetica, sans-serif" font-size="13.37" fill="#000" stroke="#000" stroke-width="0.25">10</text>
<text transform="translate(280.98 413.90) scale(1.0185 1.05)" font-family="'Liberation Sans', Arial, Helvetica, sans-serif" font-size="13.37" fill="#000" stroke="#000" stroke-width="0.25">18</text>
<text transform="translate(306.92 413.90) scale(1.1607 1.05)" font-family="'Liberation Sans', Arial, Helvetica, sans-serif" font-size="13.37" fill="#000" stroke="#000" stroke-width="0.25">24</text>
<text transform="translate(342.20 413.45) scale(1.0707 1.0)" font-family="'Liberation Sans', Arial, Helvetica, sans-serif" font-size="14.6" font-weight="bold" fill="#000" stroke="#000" stroke-width="0.3">Feb</text>
<text transform="translate(378.17 413.90) scale(1.1538 1.05)" font-family="'Liberation Sans', Arial, Helvetica, sans-serif" font-size="13.37" fill="#000" stroke="#000" stroke-width="0.25">7</text>
<text transform="translate(408.48 413.90) scale(1.0185 1.05)" font-family="'Liberation Sans', Arial, Helvetica, sans-serif" font-size="13.37" fill="#000" stroke="#000" stroke-width="0.25">14</text>
<text transform="translate(440.70 413.90) scale(1.0909 1.05)" font-family="'Liberation Sans', Arial, Helvetica, sans-serif" font-size="13.37" fill="#000" stroke="#000" stroke-width="0.25">22</text>
<text transform="translate(469.73 413.45) scale(1.0300 1.0)" font-family="'Liberation Sans', Arial, Helvetica, sans-serif" font-size="14.6" font-weight="bold" fill="#000" stroke="#000" stroke-width="0.3">Mar</text>
<text transform="translate(506.49 413.90) scale(1.0154 1.05)" font-family="'Liberation Sans', Arial, Helvetica, sans-serif" font-size="13.37" fill="#000" stroke="#000" stroke-width="0.25">7</text>
<text transform="translate(535.19 413.90) scale(1.0556 1.05)" font-family="'Liberation Sans', Arial, Helvetica, sans-serif" font-size="13.37" fill="#000" stroke="#000" stroke-width="0.25">14</text>
<text transform="translate(568.25 413.90) scale(1.0000 1.05)" font-family="'Liberation Sans', Arial, Helvetica, sans-serif" font-size="13.37" fill="#000" stroke="#000" stroke-width="0.25">21</text>
<text transform="translate(601.49 413.90) scale(1.0179 1.05)" font-family="'Liberation Sans', Arial, Helvetica, sans-serif" font-size="13.37" fill="#000" stroke="#000" stroke-width="0.25">28</text>
<text transform="translate(625.24 413.45) scale(1.0303 1.0)" font-family="'Liberation Sans', Arial, Helvetica, sans-serif" font-size="14.6" font-weight="bold" fill="#000" stroke="#000" stroke-width="0.3">Apr</text>
<text transform="translate(668.98 413.90) scale(1.0204 1.05)" font-family="'Liberation Sans', Arial, Helvetica, sans-serif" font-size="13.37" fill="#000" stroke="#000" stroke-width="0.25">11</text>
<text transform="translate(696.04 413.90) scale(0.9630 1.05)" font-family="'Liberation Sans', Arial, Helvetica, sans-serif" font-size="13.37" fill="#000" stroke="#000" stroke-width="0.25">18</text>
<text transform="translate(728.23 413.90) scale(1.0357 1.05)" font-family="'Liberation Sans', Arial, Helvetica, sans-serif" font-size="13.37" fill="#000" stroke="#000" stroke-width="0.25">25</text>
<text transform="translate(756.23 413.45) scale(1.0270 1.0)" font-family="'Liberation Sans', Arial, Helvetica, sans-serif" font-size="14.6" font-weight="bold" fill="#000" stroke="#000" stroke-width="0.3">May</text>
<text transform="translate(800.23 413.90) scale(1.0385 1.05)" font-family="'Liberation Sans', Arial, Helvetica, sans-serif" font-size="13.37" fill="#000" stroke="#000" stroke-width="0.25">9</text>
<text transform="translate(830.32 413.90) scale(0.9259 1.05)" font-family="'Liberation Sans', Arial, Helvetica, sans-serif" font-size="13.37" fill="#000" stroke="#000" stroke-width="0.25">16</text>
<path d="M871.3 183.1L876.2 176.7H923.3V189.4H876.2Z" fill="#fff" stroke="#1c1ca0" stroke-width="1.6" stroke-linejoin="miter"/>
<text transform="translate(877.04 187.75) scale(1.0609 1)" font-family="'Liberation Sans', Arial, Helvetica, sans-serif" font-size="13.6" fill="#000" stroke="#000" stroke-width="0.3">161.64</text>
<path d="M871.3 202.2L876.2 195.9H923.3V208.6H876.2Z" fill="#fff" stroke="#dc143c" stroke-width="1.6" stroke-linejoin="miter"/>
<text transform="translate(877.23 206.95) scale(1.0675 1)" font-family="'Liberation Sans', Arial, Helvetica, sans-serif" font-size="13.6" fill="#000" stroke="#000" stroke-width="0.3">159.16</text>
<path d="M871.3 376.9L876.2 370.6H940V383.2H876.2Z" fill="#fff" stroke="#000" stroke-width="1.4"/>
<text transform="translate(879.71 381.00) scale(1.1434 1)" font-family="'Liberation Sans', Arial, Helvetica, sans-serif" font-size="12.0" fill="#000" stroke="#000" stroke-width="0.3">40324944</text>
<path d="M871.3 383.1L876.2 375.9H923.3V390.3H876.2Z" fill="#fff" stroke="#000" stroke-width="1.6" stroke-linejoin="miter"/>
<text transform="translate(876.13 388.40) scale(1.0212 1.08)" font-family="'Liberation Sans', Arial, Helvetica, sans-serif" font-size="14.3" font-weight="bold" fill="#000" stroke="#000" stroke-width="0.3">137.17</text>
<rect x="63.2" y="28.8" width="164.3" height="16.4" fill="#fff"/>
<rect x="63.2" y="43" width="104.3" height="15" fill="#fff"/>
<rect x="63.2" y="57.5" width="110.3" height="15" fill="#fff"/>
<rect x="63.2" y="72" width="127.5" height="15.2" fill="#fff"/>
<g fill="#000"><rect x="66.8" y="31.1" width="1.3" height="9.5"/><rect x="65.5" y="32.7" width="3.9" height="5.9"/><rect x="66.9" y="33.9" width="1.1" height="3.3" fill="#fff"/><rect x="69.4" y="34.9" width="4.4" height="5.5"/><rect x="70.9" y="34.9" width="1.3" height="6.8"/><rect x="74.9" y="31.1" width="1.3" height="10.8"/><rect x="73.8" y="32.5" width="4.1" height="7.9"/><rect x="75.0" y="33.9" width="1.1" height="5.3" fill="#fff"/></g>
<rect x="65.5" y="50.1" width="11.7" height="2.4" fill="#00008f"/>
<rect x="65.5" y="65" width="11.7" height="2.4" fill="#dc143c"/>
<g fill="#9a9a9a" stroke="#484848" stroke-width="1.25"><rect x="66.0" y="78.4" width="3.1" height="5.7"/><rect x="69.1" y="74.8" width="3.9" height="9.3"/><rect x="73.0" y="77.3" width="4.0" height="6.8"/></g>
<text transform="translate(80.99 41.65) scale(1.2235 1)" font-family="'DejaVu Sans', Verdana, sans-serif" font-size="11.8" fill="#000">AAPL</text>
<text transform="translate(122.20 41.65) scale(1.2973 1)" font-family="'DejaVu Sans', Verdana, sans-serif" font-size="11.8" fill="#000">(Daily)</text>
<text transform="translate(176.87 41.65) scale(1.3026 1)" font-family="'DejaVu Sans', Verdana, sans-serif" font-size="11.8" fill="#000">137.17</text>
<text transform="translate(79.04 56.60) scale(1.0568 1)" font-family="'DejaVu Sans', Verdana, sans-serif" font-size="11.8" fill="#00008f" stroke="#00008f" stroke-width="0.3">MA(50)</text>
<text transform="translate(128.00 56.60) scale(0.9228 1)" font-family="'DejaVu Sans', Verdana, sans-serif" font-size="11.8" fill="#00008f" stroke="#00008f" stroke-width="0.3">161.64</text>
<text transform="translate(79.06 71.10) scale(1.0396 1)" font-family="'DejaVu Sans', Verdana, sans-serif" font-size="11.8" fill="#dc143c" stroke="#dc143c" stroke-width="0.3">MA(200)</text>
<text transform="translate(135.19 71.10) scale(0.8886 1)" font-family="'DejaVu Sans', Verdana, sans-serif" font-size="11.8" fill="#dc143c" stroke="#dc143c" stroke-width="0.3">159.16</text>
<text transform="translate(79.85 84.70) scale(0.9930 1)" font-family="'DejaVu Sans', Verdana, sans-serif" font-size="11.8" fill="#555">Volume</text>
<text transform="translate(127.74 84.70) scale(0.9256 1)" font-family="'DejaVu Sans', Verdana, sans-serif" font-size="11.8" fill="#555">40,324,944</text>
<rect x="63.5" y="419.6" width="309.5" height="12" fill="#fff"/>
<rect x="65.5" y="425.8" width="11.7" height="2.4" fill="#000"/>
<text transform="translate(80.69 432.60) scale(1.2888 1)" font-family="'DejaVu Sans', Verdana, sans-serif" font-size="11.8" fill="#000">MACD(12,26,9)</text>
<text transform="translate(201.65 432.60) scale(1.2912 1)" font-family="'DejaVu Sans', Verdana, sans-serif" font-size="11.8" fill="#000">-6.640</text>
<text transform="translate(250.00 432.60) scale(1.2000 1)" font-family="'DejaVu Sans', Verdana, sans-serif" font-size="11.8" fill="#999">,</text>
<text transform="translate(260.64 432.60) scale(1.3116 1)" font-family="'DejaVu Sans', Verdana, sans-serif" font-size="11.8" fill="#e8101c" stroke="#e8101c" stroke-width="0.25">-5.179</text>
<text transform="translate(309.60 432.60) scale(1.2000 1)" font-family="'DejaVu Sans', Verdana, sans-serif" font-size="11.8" fill="#999">,</text>
<text transform="translate(321.38 432.60) scale(1.2466 1)" font-family="'DejaVu Sans', Verdana, sans-serif" font-size="11.8" fill="#2a98cc" stroke="#2a98cc" stroke-width="0.3">-1.461</text>
</svg>
</body></html>
